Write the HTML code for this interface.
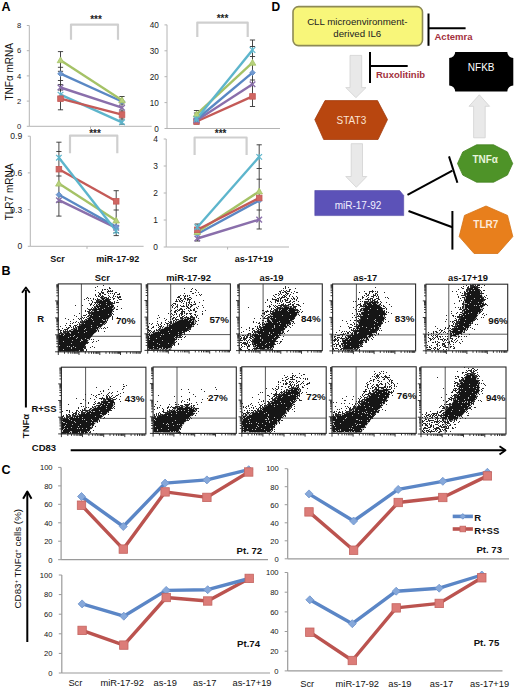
<!DOCTYPE html>
<html><head><meta charset="utf-8"><style>
html,body{margin:0;padding:0;background:#fff;}
svg{display:block;font-family:"Liberation Sans", sans-serif;}
</style></head><body>
<svg width="520" height="691" viewBox="0 0 520 691">
<text x="1.5" y="11.2" font-size="12.5" font-weight="bold" fill="#000" text-anchor="start" >A</text>
<line x1="29.3" y1="25.5" x2="29.3" y2="126.3" stroke="#b4b4b4" stroke-width="1" />
<line x1="29.3" y1="126.3" x2="151.7" y2="126.3" stroke="#b4b4b4" stroke-width="1" />
<line x1="26.8" y1="126.3" x2="29.3" y2="126.3" stroke="#b4b4b4" stroke-width="1" />
<text x="21.2" y="129.0" font-size="7.6" font-weight="normal" fill="#1a1a1a" text-anchor="end" >0</text>
<line x1="26.8" y1="101.1" x2="29.3" y2="101.1" stroke="#b4b4b4" stroke-width="1" />
<text x="21.2" y="103.8" font-size="7.6" font-weight="normal" fill="#1a1a1a" text-anchor="end" >2</text>
<line x1="26.8" y1="75.9" x2="29.3" y2="75.9" stroke="#b4b4b4" stroke-width="1" />
<text x="21.2" y="78.6" font-size="7.6" font-weight="normal" fill="#1a1a1a" text-anchor="end" >4</text>
<line x1="26.8" y1="50.7" x2="29.3" y2="50.7" stroke="#b4b4b4" stroke-width="1" />
<text x="21.2" y="53.4" font-size="7.6" font-weight="normal" fill="#1a1a1a" text-anchor="end" >6</text>
<line x1="26.8" y1="25.5" x2="29.3" y2="25.5" stroke="#b4b4b4" stroke-width="1" />
<text x="21.2" y="28.2" font-size="7.6" font-weight="normal" fill="#1a1a1a" text-anchor="end" >8</text>
<line x1="90.5" y1="126.3" x2="90.5" y2="128.8" stroke="#b4b4b4" stroke-width="1" />
<polyline points="71.0,39.7 71.0,24.6 118.0,24.6 118.0,39.7" fill="none" stroke="#cfcfcf" stroke-width="2.2" stroke-linejoin="round" stroke-linejoin="miter"/>
<text x="96.0" y="23.1" font-size="10" font-weight="bold" fill="#222" text-anchor="middle" >***</text>
<line x1="60.5" y1="51.6" x2="60.5" y2="109.8" stroke="#333" stroke-width="0.9" />
<line x1="57.9" y1="51.6" x2="63.1" y2="51.6" stroke="#333" stroke-width="0.9" />
<line x1="57.9" y1="109.8" x2="63.1" y2="109.8" stroke="#333" stroke-width="0.9" />
<line x1="122.0" y1="96.5" x2="122.0" y2="124.2" stroke="#333" stroke-width="0.9" />
<line x1="119.4" y1="96.5" x2="124.6" y2="96.5" stroke="#333" stroke-width="0.9" />
<line x1="119.4" y1="124.2" x2="124.6" y2="124.2" stroke="#333" stroke-width="0.9" />
<line x1="57.9" y1="67.3" x2="63.1" y2="67.3" stroke="#333" stroke-width="0.9" />
<line x1="57.9" y1="71.3" x2="63.1" y2="71.3" stroke="#333" stroke-width="0.9" />
<line x1="57.9" y1="80.5" x2="63.1" y2="80.5" stroke="#333" stroke-width="0.9" />
<line x1="57.9" y1="84.6" x2="63.1" y2="84.6" stroke="#333" stroke-width="0.9" />
<line x1="57.9" y1="90.0" x2="63.1" y2="90.0" stroke="#333" stroke-width="0.9" />
<line x1="119.4" y1="104.0" x2="124.6" y2="104.0" stroke="#333" stroke-width="0.9" />
<line x1="119.4" y1="111.0" x2="124.6" y2="111.0" stroke="#333" stroke-width="0.9" />
<line x1="119.4" y1="119.0" x2="124.6" y2="119.0" stroke="#333" stroke-width="0.9" />
<polyline points="60.5,87.5 122.0,107.7" fill="none" stroke="#8a6fab" stroke-width="2.4" stroke-linejoin="round" />
<polyline points="60.5,94.6 122.0,122.3" fill="none" stroke="#5db5cc" stroke-width="2.4" stroke-linejoin="round" />
<polyline points="60.5,98.7 122.0,114.6" fill="none" stroke="#c45a57" stroke-width="2.4" stroke-linejoin="round" />
<polyline points="60.5,73.7 122.0,101.5" fill="none" stroke="#5a88c4" stroke-width="2.4" stroke-linejoin="round" />
<polyline points="60.5,60.2 122.0,100.2" fill="none" stroke="#a5c266" stroke-width="2.4" stroke-linejoin="round" />
<line x1="57.7" y1="84.7" x2="63.3" y2="90.3" stroke="#8a6fab" stroke-width="1.4" />
<line x1="57.7" y1="90.3" x2="63.3" y2="84.7" stroke="#8a6fab" stroke-width="1.4" />
<line x1="119.2" y1="104.9" x2="124.8" y2="110.5" stroke="#8a6fab" stroke-width="1.4" />
<line x1="119.2" y1="110.5" x2="124.8" y2="104.9" stroke="#8a6fab" stroke-width="1.4" />
<line x1="57.7" y1="91.8" x2="63.3" y2="97.4" stroke="#5db5cc" stroke-width="1.2" />
<line x1="57.7" y1="97.4" x2="63.3" y2="91.8" stroke="#5db5cc" stroke-width="1.2" />
<line x1="60.5" y1="91.8" x2="60.5" y2="97.4" stroke="#5db5cc" stroke-width="1.2" />
<line x1="119.2" y1="119.5" x2="124.8" y2="125.1" stroke="#5db5cc" stroke-width="1.2" />
<line x1="119.2" y1="125.1" x2="124.8" y2="119.5" stroke="#5db5cc" stroke-width="1.2" />
<line x1="122.0" y1="119.5" x2="122.0" y2="125.1" stroke="#5db5cc" stroke-width="1.2" />
<rect x="57.7" y="95.9" width="5.6" height="5.6" fill="#d06662" stroke="#c45a57" stroke-width="0.8"/>
<rect x="119.2" y="111.8" width="5.6" height="5.6" fill="#d06662" stroke="#c45a57" stroke-width="0.8"/>
<polygon points="60.5,70.9 63.3,73.7 60.5,76.5 57.7,73.7" fill="#7099d0" stroke="#5a88c4" stroke-width="0.8" />
<polygon points="122.0,98.7 124.8,101.5 122.0,104.3 119.2,101.5" fill="#7099d0" stroke="#5a88c4" stroke-width="0.8" />
<polygon points="60.5,56.9 63.8,62.7 57.2,62.7" fill="#b8d27c" stroke="#a5c266" stroke-width="0.8" />
<polygon points="122.0,96.9 125.3,102.7 118.7,102.7" fill="#b8d27c" stroke="#a5c266" stroke-width="0.8" />
<line x1="167.0" y1="24.8" x2="167.0" y2="128.5" stroke="#b4b4b4" stroke-width="1" />
<line x1="167.0" y1="128.5" x2="280.0" y2="128.5" stroke="#b4b4b4" stroke-width="1" />
<line x1="164.5" y1="128.5" x2="167.0" y2="128.5" stroke="#b4b4b4" stroke-width="1" />
<text x="158.8" y="131.5" font-size="8.2" font-weight="normal" fill="#1a1a1a" text-anchor="end" >0</text>
<line x1="164.5" y1="102.6" x2="167.0" y2="102.6" stroke="#b4b4b4" stroke-width="1" />
<text x="158.8" y="105.6" font-size="8.2" font-weight="normal" fill="#1a1a1a" text-anchor="end" >10</text>
<line x1="164.5" y1="76.7" x2="167.0" y2="76.7" stroke="#b4b4b4" stroke-width="1" />
<text x="158.8" y="79.7" font-size="8.2" font-weight="normal" fill="#1a1a1a" text-anchor="end" >20</text>
<line x1="164.5" y1="50.8" x2="167.0" y2="50.8" stroke="#b4b4b4" stroke-width="1" />
<text x="158.8" y="53.8" font-size="8.2" font-weight="normal" fill="#1a1a1a" text-anchor="end" >30</text>
<line x1="164.5" y1="24.9" x2="167.0" y2="24.9" stroke="#b4b4b4" stroke-width="1" />
<text x="158.8" y="27.9" font-size="8.2" font-weight="normal" fill="#1a1a1a" text-anchor="end" >40</text>
<line x1="223.5" y1="128.5" x2="223.5" y2="131.0" stroke="#b4b4b4" stroke-width="1" />
<polyline points="197.3,36.9 197.3,22.6 247.7,22.6 247.7,36.9" fill="none" stroke="#cfcfcf" stroke-width="2.2" stroke-linejoin="round" stroke-linejoin="miter"/>
<text x="222.5" y="22.1" font-size="10" font-weight="bold" fill="#222" text-anchor="middle" >***</text>
<line x1="196.5" y1="110.5" x2="196.5" y2="124.0" stroke="#333" stroke-width="0.9" />
<line x1="193.9" y1="110.5" x2="199.1" y2="110.5" stroke="#333" stroke-width="0.9" />
<line x1="193.9" y1="124.0" x2="199.1" y2="124.0" stroke="#333" stroke-width="0.9" />
<line x1="252.5" y1="40.0" x2="252.5" y2="106.5" stroke="#333" stroke-width="0.9" />
<line x1="249.9" y1="40.0" x2="255.1" y2="40.0" stroke="#333" stroke-width="0.9" />
<line x1="249.9" y1="106.5" x2="255.1" y2="106.5" stroke="#333" stroke-width="0.9" />
<line x1="193.9" y1="113.0" x2="199.1" y2="113.0" stroke="#333" stroke-width="0.9" />
<line x1="249.9" y1="46.5" x2="255.1" y2="46.5" stroke="#333" stroke-width="0.9" />
<line x1="249.9" y1="56.5" x2="255.1" y2="56.5" stroke="#333" stroke-width="0.9" />
<line x1="249.9" y1="80.0" x2="255.1" y2="80.0" stroke="#333" stroke-width="0.9" />
<polyline points="196.5,121.5 252.5,96.4" fill="none" stroke="#c45a57" stroke-width="2.4" stroke-linejoin="round" />
<polyline points="196.5,120.5 252.5,84.3" fill="none" stroke="#8a6fab" stroke-width="2.4" stroke-linejoin="round" />
<polyline points="196.5,119.5 252.5,72.7" fill="none" stroke="#5a88c4" stroke-width="2.4" stroke-linejoin="round" />
<polyline points="196.5,114.4 252.5,62.7" fill="none" stroke="#a5c266" stroke-width="2.4" stroke-linejoin="round" />
<polyline points="196.5,119.0 252.5,50.0" fill="none" stroke="#5db5cc" stroke-width="2.4" stroke-linejoin="round" />
<rect x="193.7" y="118.7" width="5.6" height="5.6" fill="#d06662" stroke="#c45a57" stroke-width="0.8"/>
<rect x="249.7" y="93.6" width="5.6" height="5.6" fill="#d06662" stroke="#c45a57" stroke-width="0.8"/>
<line x1="193.7" y1="117.7" x2="199.3" y2="123.3" stroke="#8a6fab" stroke-width="1.4" />
<line x1="193.7" y1="123.3" x2="199.3" y2="117.7" stroke="#8a6fab" stroke-width="1.4" />
<line x1="249.7" y1="81.5" x2="255.3" y2="87.1" stroke="#8a6fab" stroke-width="1.4" />
<line x1="249.7" y1="87.1" x2="255.3" y2="81.5" stroke="#8a6fab" stroke-width="1.4" />
<polygon points="196.5,116.7 199.3,119.5 196.5,122.3 193.7,119.5" fill="#7099d0" stroke="#5a88c4" stroke-width="0.8" />
<polygon points="252.5,69.9 255.3,72.7 252.5,75.5 249.7,72.7" fill="#7099d0" stroke="#5a88c4" stroke-width="0.8" />
<polygon points="196.5,111.1 199.8,116.9 193.2,116.9" fill="#b8d27c" stroke="#a5c266" stroke-width="0.8" />
<polygon points="252.5,59.4 255.8,65.2 249.2,65.2" fill="#b8d27c" stroke="#a5c266" stroke-width="0.8" />
<line x1="193.7" y1="116.2" x2="199.3" y2="121.8" stroke="#5db5cc" stroke-width="1.2" />
<line x1="193.7" y1="121.8" x2="199.3" y2="116.2" stroke="#5db5cc" stroke-width="1.2" />
<line x1="196.5" y1="116.2" x2="196.5" y2="121.8" stroke="#5db5cc" stroke-width="1.2" />
<line x1="249.7" y1="47.2" x2="255.3" y2="52.8" stroke="#5db5cc" stroke-width="1.2" />
<line x1="249.7" y1="52.8" x2="255.3" y2="47.2" stroke="#5db5cc" stroke-width="1.2" />
<line x1="252.5" y1="47.2" x2="252.5" y2="52.8" stroke="#5db5cc" stroke-width="1.2" />
<line x1="30.3" y1="136.2" x2="30.3" y2="246.3" stroke="#b4b4b4" stroke-width="1" />
<line x1="30.3" y1="246.3" x2="143.6" y2="246.3" stroke="#b4b4b4" stroke-width="1" />
<line x1="27.8" y1="246.3" x2="30.3" y2="246.3" stroke="#b4b4b4" stroke-width="1" />
<text x="22.3" y="249.4" font-size="8.6" font-weight="normal" fill="#1a1a1a" text-anchor="end" >0</text>
<line x1="27.8" y1="209.6" x2="30.3" y2="209.6" stroke="#b4b4b4" stroke-width="1" />
<text x="22.3" y="212.7" font-size="8.6" font-weight="normal" fill="#1a1a1a" text-anchor="end" >0.3</text>
<line x1="27.8" y1="172.9" x2="30.3" y2="172.9" stroke="#b4b4b4" stroke-width="1" />
<text x="22.3" y="176.0" font-size="8.6" font-weight="normal" fill="#1a1a1a" text-anchor="end" >0.6</text>
<line x1="27.8" y1="136.2" x2="30.3" y2="136.2" stroke="#b4b4b4" stroke-width="1" />
<text x="22.3" y="139.3" font-size="8.6" font-weight="normal" fill="#1a1a1a" text-anchor="end" >0.9</text>
<line x1="87.0" y1="246.3" x2="87.0" y2="248.8" stroke="#b4b4b4" stroke-width="1" />
<polyline points="70.0,153.3 70.0,135.6 117.3,135.6 117.3,153.3" fill="none" stroke="#cfcfcf" stroke-width="2.2" stroke-linejoin="round" stroke-linejoin="miter"/>
<text x="95.0" y="137.3" font-size="10" font-weight="bold" fill="#222" text-anchor="middle" >***</text>
<line x1="58.9" y1="142.2" x2="58.9" y2="216.1" stroke="#333" stroke-width="0.9" />
<line x1="56.3" y1="142.2" x2="61.5" y2="142.2" stroke="#333" stroke-width="0.9" />
<line x1="56.3" y1="216.1" x2="61.5" y2="216.1" stroke="#333" stroke-width="0.9" />
<line x1="116.2" y1="190.7" x2="116.2" y2="235.6" stroke="#333" stroke-width="0.9" />
<line x1="113.6" y1="190.7" x2="118.8" y2="190.7" stroke="#333" stroke-width="0.9" />
<line x1="113.6" y1="235.6" x2="118.8" y2="235.6" stroke="#333" stroke-width="0.9" />
<line x1="56.3" y1="151.5" x2="61.5" y2="151.5" stroke="#333" stroke-width="0.9" />
<line x1="56.3" y1="202.0" x2="61.5" y2="202.0" stroke="#333" stroke-width="0.9" />
<line x1="56.3" y1="176.0" x2="61.5" y2="176.0" stroke="#333" stroke-width="0.9" />
<line x1="113.6" y1="210.0" x2="118.8" y2="210.0" stroke="#333" stroke-width="0.9" />
<line x1="113.6" y1="232.5" x2="118.8" y2="232.5" stroke="#333" stroke-width="0.9" />
<polyline points="58.9,200.2 116.2,227.8" fill="none" stroke="#8a6fab" stroke-width="2.4" stroke-linejoin="round" />
<polyline points="58.9,194.7 116.2,226.7" fill="none" stroke="#5a88c4" stroke-width="2.4" stroke-linejoin="round" />
<polyline points="58.9,183.6 116.2,220.5" fill="none" stroke="#a5c266" stroke-width="2.4" stroke-linejoin="round" />
<polyline points="58.9,169.2 116.2,201.3" fill="none" stroke="#c45a57" stroke-width="2.4" stroke-linejoin="round" />
<polyline points="58.9,157.7 116.2,231.0" fill="none" stroke="#5db5cc" stroke-width="2.4" stroke-linejoin="round" />
<line x1="56.1" y1="197.4" x2="61.7" y2="203.0" stroke="#8a6fab" stroke-width="1.4" />
<line x1="56.1" y1="203.0" x2="61.7" y2="197.4" stroke="#8a6fab" stroke-width="1.4" />
<line x1="113.4" y1="225.0" x2="119.0" y2="230.6" stroke="#8a6fab" stroke-width="1.4" />
<line x1="113.4" y1="230.6" x2="119.0" y2="225.0" stroke="#8a6fab" stroke-width="1.4" />
<polygon points="58.9,191.9 61.7,194.7 58.9,197.5 56.1,194.7" fill="#7099d0" stroke="#5a88c4" stroke-width="0.8" />
<polygon points="116.2,223.9 119.0,226.7 116.2,229.5 113.4,226.7" fill="#7099d0" stroke="#5a88c4" stroke-width="0.8" />
<polygon points="58.9,180.3 62.2,186.1 55.6,186.1" fill="#b8d27c" stroke="#a5c266" stroke-width="0.8" />
<polygon points="116.2,217.2 119.5,223.0 112.9,223.0" fill="#b8d27c" stroke="#a5c266" stroke-width="0.8" />
<rect x="56.1" y="166.4" width="5.6" height="5.6" fill="#d06662" stroke="#c45a57" stroke-width="0.8"/>
<rect x="113.4" y="198.5" width="5.6" height="5.6" fill="#d06662" stroke="#c45a57" stroke-width="0.8"/>
<line x1="56.1" y1="154.9" x2="61.7" y2="160.5" stroke="#5db5cc" stroke-width="1.2" />
<line x1="56.1" y1="160.5" x2="61.7" y2="154.9" stroke="#5db5cc" stroke-width="1.2" />
<line x1="58.9" y1="154.9" x2="58.9" y2="160.5" stroke="#5db5cc" stroke-width="1.2" />
<line x1="113.4" y1="228.2" x2="119.0" y2="233.8" stroke="#5db5cc" stroke-width="1.2" />
<line x1="113.4" y1="233.8" x2="119.0" y2="228.2" stroke="#5db5cc" stroke-width="1.2" />
<line x1="116.2" y1="228.2" x2="116.2" y2="233.8" stroke="#5db5cc" stroke-width="1.2" />
<line x1="166.2" y1="139.0" x2="166.2" y2="247.0" stroke="#b4b4b4" stroke-width="1" />
<line x1="166.2" y1="247.0" x2="289.0" y2="247.0" stroke="#b4b4b4" stroke-width="1" />
<line x1="163.7" y1="247.0" x2="166.2" y2="247.0" stroke="#b4b4b4" stroke-width="1" />
<text x="158.0" y="250.0" font-size="8.4" font-weight="normal" fill="#1a1a1a" text-anchor="end" >0</text>
<line x1="163.7" y1="220.0" x2="166.2" y2="220.0" stroke="#b4b4b4" stroke-width="1" />
<text x="158.0" y="223.0" font-size="8.4" font-weight="normal" fill="#1a1a1a" text-anchor="end" >1</text>
<line x1="163.7" y1="193.0" x2="166.2" y2="193.0" stroke="#b4b4b4" stroke-width="1" />
<text x="158.0" y="196.0" font-size="8.4" font-weight="normal" fill="#1a1a1a" text-anchor="end" >2</text>
<line x1="163.7" y1="166.0" x2="166.2" y2="166.0" stroke="#b4b4b4" stroke-width="1" />
<text x="158.0" y="169.0" font-size="8.4" font-weight="normal" fill="#1a1a1a" text-anchor="end" >3</text>
<line x1="163.7" y1="139.0" x2="166.2" y2="139.0" stroke="#b4b4b4" stroke-width="1" />
<text x="158.0" y="142.0" font-size="8.4" font-weight="normal" fill="#1a1a1a" text-anchor="end" >4</text>
<line x1="227.6" y1="247.0" x2="227.6" y2="249.5" stroke="#b4b4b4" stroke-width="1" />
<polyline points="194.6,155.0 194.6,137.5 246.6,137.5 246.6,155.0" fill="none" stroke="#cfcfcf" stroke-width="2.2" stroke-linejoin="round" stroke-linejoin="miter"/>
<text x="220.6" y="136.7" font-size="10" font-weight="bold" fill="#222" text-anchor="middle" >***</text>
<line x1="197.3" y1="224.0" x2="197.3" y2="241.0" stroke="#333" stroke-width="0.9" />
<line x1="194.7" y1="224.0" x2="199.9" y2="224.0" stroke="#333" stroke-width="0.9" />
<line x1="194.7" y1="241.0" x2="199.9" y2="241.0" stroke="#333" stroke-width="0.9" />
<line x1="259.2" y1="144.8" x2="259.2" y2="229.0" stroke="#333" stroke-width="0.9" />
<line x1="256.6" y1="144.8" x2="261.8" y2="144.8" stroke="#333" stroke-width="0.9" />
<line x1="256.6" y1="229.0" x2="261.8" y2="229.0" stroke="#333" stroke-width="0.9" />
<line x1="256.6" y1="168.5" x2="261.8" y2="168.5" stroke="#333" stroke-width="0.9" />
<line x1="256.6" y1="179.2" x2="261.8" y2="179.2" stroke="#333" stroke-width="0.9" />
<line x1="256.6" y1="210.0" x2="261.8" y2="210.0" stroke="#333" stroke-width="0.9" />
<polyline points="197.3,238.5 259.2,219.6" fill="none" stroke="#8a6fab" stroke-width="2.4" stroke-linejoin="round" />
<polyline points="197.3,234.0 259.2,200.5" fill="none" stroke="#5a88c4" stroke-width="2.4" stroke-linejoin="round" />
<polyline points="197.3,232.0 259.2,191.4" fill="none" stroke="#a5c266" stroke-width="2.4" stroke-linejoin="round" />
<polyline points="197.3,229.8 259.2,198.0" fill="none" stroke="#c45a57" stroke-width="2.4" stroke-linejoin="round" />
<polyline points="197.3,227.2 259.2,156.9" fill="none" stroke="#5db5cc" stroke-width="2.4" stroke-linejoin="round" />
<line x1="194.5" y1="235.7" x2="200.1" y2="241.3" stroke="#8a6fab" stroke-width="1.4" />
<line x1="194.5" y1="241.3" x2="200.1" y2="235.7" stroke="#8a6fab" stroke-width="1.4" />
<line x1="256.4" y1="216.8" x2="262.0" y2="222.4" stroke="#8a6fab" stroke-width="1.4" />
<line x1="256.4" y1="222.4" x2="262.0" y2="216.8" stroke="#8a6fab" stroke-width="1.4" />
<polygon points="197.3,231.2 200.1,234.0 197.3,236.8 194.5,234.0" fill="#7099d0" stroke="#5a88c4" stroke-width="0.8" />
<polygon points="259.2,197.7 262.0,200.5 259.2,203.3 256.4,200.5" fill="#7099d0" stroke="#5a88c4" stroke-width="0.8" />
<polygon points="197.3,228.7 200.6,234.5 194.0,234.5" fill="#b8d27c" stroke="#a5c266" stroke-width="0.8" />
<polygon points="259.2,188.1 262.5,193.9 255.9,193.9" fill="#b8d27c" stroke="#a5c266" stroke-width="0.8" />
<rect x="194.5" y="227.0" width="5.6" height="5.6" fill="#d06662" stroke="#c45a57" stroke-width="0.8"/>
<rect x="256.4" y="195.2" width="5.6" height="5.6" fill="#d06662" stroke="#c45a57" stroke-width="0.8"/>
<line x1="194.5" y1="224.4" x2="200.1" y2="230.0" stroke="#5db5cc" stroke-width="1.2" />
<line x1="194.5" y1="230.0" x2="200.1" y2="224.4" stroke="#5db5cc" stroke-width="1.2" />
<line x1="197.3" y1="224.4" x2="197.3" y2="230.0" stroke="#5db5cc" stroke-width="1.2" />
<line x1="256.4" y1="154.1" x2="262.0" y2="159.7" stroke="#5db5cc" stroke-width="1.2" />
<line x1="256.4" y1="159.7" x2="262.0" y2="154.1" stroke="#5db5cc" stroke-width="1.2" />
<line x1="259.2" y1="154.1" x2="259.2" y2="159.7" stroke="#5db5cc" stroke-width="1.2" />
<text x="0.0" y="0.0" font-size="10" font-weight="normal" fill="#111" text-anchor="middle" transform="translate(12.6,71.8) rotate(-90)">TNFα mRNA</text>
<text x="0.0" y="0.0" font-size="10" font-weight="normal" fill="#111" text-anchor="middle" transform="translate(12.6,192) rotate(-90)">TLR7 mRNA</text>
<text x="57.6" y="262.0" font-size="9" font-weight="bold" fill="#111" text-anchor="middle" >Scr</text>
<text x="117.8" y="262.0" font-size="9" font-weight="bold" fill="#111" text-anchor="middle" >miR-17-92</text>
<text x="189.8" y="262.0" font-size="9" font-weight="bold" fill="#111" text-anchor="middle" >Scr</text>
<text x="254.0" y="262.0" font-size="9" font-weight="bold" fill="#111" text-anchor="middle" >as-17+19</text>
<text x="271.5" y="11.0" font-size="12" font-weight="bold" fill="#000" text-anchor="start" >D</text>
<rect x="293" y="6.6" width="129.5" height="39" rx="5.5" ry="5.5" fill="#f8f67a" stroke="#8d8a55" stroke-width="1.6"/>
<text x="357.3" y="24.5" font-size="9.7" font-weight="normal" fill="#222" text-anchor="middle" >CLL microenvironment-</text>
<text x="357.3" y="37.2" font-size="9.7" font-weight="normal" fill="#222" text-anchor="middle" >derived IL6</text>
<line x1="428.5" y1="13.5" x2="428.5" y2="45.8" stroke="#000" stroke-width="2" />
<line x1="428.5" y1="28.3" x2="465.6" y2="28.3" stroke="#000" stroke-width="2" />
<text x="434.5" y="39.8" font-size="9.5" font-weight="bold" fill="#a3303c" text-anchor="start" >Actemra</text>
<line x1="370.0" y1="52.1" x2="370.0" y2="83.1" stroke="#000" stroke-width="2" />
<line x1="370.0" y1="66.1" x2="407.7" y2="66.1" stroke="#000" stroke-width="2" />
<text x="376.0" y="78.0" font-size="9.5" font-weight="bold" fill="#a3303c" text-anchor="start" >Ruxolitinib</text>
<polygon points="350.0,55.4 361.7,55.4 361.7,87.6 366.0,87.6 355.9,97.7 345.8,87.6 350.0,87.6" fill="#e9e9e9" stroke="#d2d2d2" stroke-width="0.8" />
<polygon points="351.2,143.7 362.5,143.7 362.5,176.5 366.8,176.5 356.3,187.3 345.8,176.5 351.2,176.5" fill="#e9e9e9" stroke="#d2d2d2" stroke-width="0.8" />
<polygon points="473.6,137.8 485.2,137.8 485.2,106.3 489.6,106.3 479.3,94.8 469.0,106.3 473.6,106.3" fill="#e9e9e9" stroke="#d2d2d2" stroke-width="0.8" />
<polygon points="325.0,100.6 377.5,100.6 387.5,119.6 378.0,139.5 323.7,139.5 314.8,119.6" fill="#b8460f" stroke="#a23d10" stroke-width="0.8" />
<text x="351.4" y="123.8" font-size="10" font-weight="normal" fill="#fbe3d3" text-anchor="middle" >STAT3</text>
<polygon points="314.8,190.5 399.6,190.5 403.7,195.4 403.7,215.6 314.8,215.6" fill="#5c52b8" stroke="#5048a6" stroke-width="0.6" />
<text x="358.0" y="209.2" font-size="10" font-weight="normal" fill="#f2efff" text-anchor="middle" >miR-17-92</text>
<path d="M455.2,51.9 H507.29999999999995 A6,6 0 0 0 513.3,57.9 V85.5 A6,6 0 0 0 507.29999999999995,91.5 H455.2 A6,6 0 0 0 449.2,85.5 V57.9 A6,6 0 0 0 455.2,51.9 Z" fill="#000"/>
<text x="481.2" y="70.5" font-size="10" font-weight="normal" fill="#fff" text-anchor="middle" >NFKB</text>
<polygon points="512.7,163.5 507.4,175.1 493.6,182.2 476.6,182.2 462.8,175.1 457.5,163.5 462.8,151.9 476.6,144.8 493.6,144.8 507.4,151.9" fill="#4e9328" stroke="#44821f" stroke-width="0.8" />
<text x="485.2" y="162.5" font-size="10" font-weight="bold" fill="#e8f5dc" text-anchor="middle" >TNFα</text>
<polygon points="486.0,206.0 507.5,215.4 512.8,236.6 497.9,253.5 474.1,253.5 459.2,236.6 464.5,215.4" fill="#e87f1c" stroke="#d47215" stroke-width="0.8" />
<text x="485.8" y="228.0" font-size="10" font-weight="bold" fill="#fdeadb" text-anchor="middle" >TLR7</text>
<line x1="407.5" y1="194.8" x2="452.4" y2="170.6" stroke="#000" stroke-width="2" />
<line x1="449.0" y1="156.4" x2="457.4" y2="182.8" stroke="#000" stroke-width="2" />
<line x1="408.5" y1="211.0" x2="452.4" y2="227.3" stroke="#000" stroke-width="2" />
<line x1="452.4" y1="211.0" x2="452.4" y2="249.6" stroke="#000" stroke-width="2" />
<text x="1.5" y="274.5" font-size="12.5" font-weight="bold" fill="#000" text-anchor="start" >B</text>
<clipPath id="cp0"><rect x="58.3" y="283.9" width="82.89999999999999" height="67.90000000000003"/></clipPath>
<line x1="81.4" y1="283.9" x2="81.4" y2="351.8" stroke="#444" stroke-width="0.9" />
<line x1="58.3" y1="336.3" x2="141.2" y2="336.3" stroke="#444" stroke-width="0.9" />
<g clip-path="url(#cp0)">
<polygon points="58.1,351.9 58.1,334.6 64.3,333.2 71.2,330.5 75.8,328.2 81.5,324.6 87.3,318.8 93.0,310.8 97.5,302.8 102.2,297.0 108.1,299.3 112.6,303.9 113.7,308.4 110.4,316.6 104.6,323.5 97.7,330.5 93.0,335.0 88.5,340.2 85.1,345.7 83.0,351.9" fill="#161616" stroke="none" stroke-width="1" />
<path d="M103 285.5h1M97 286.5h1M95 287.5h1M109 287.5h1M109 288.5h1M110 288.5h1M102 289.5h1M104 289.5h1M105 289.5h1M107 289.5h1M95 290.5h1M102 290.5h1M108 290.5h1M110 290.5h1M112 290.5h1M101 291.5h1M107 291.5h1M108 291.5h1M109 291.5h1M110 291.5h1M111 291.5h1M112 291.5h1M98 292.5h1M101 292.5h1M102 292.5h1M103 292.5h1M107 292.5h1M115 292.5h1M116 292.5h1M99 293.5h1M100 293.5h1M102 293.5h1M103 293.5h1M108 293.5h1M110 293.5h1M112 293.5h1M114 293.5h1M119 293.5h1M95 294.5h1M99 294.5h1M100 294.5h1M104 294.5h1M105 294.5h1M114 294.5h1M117 294.5h1M118 294.5h1M119 294.5h1M95 295.5h1M98 295.5h1M100 295.5h1M102 295.5h1M108 295.5h1M113 295.5h1M96 296.5h1M98 296.5h1M99 296.5h1M101 296.5h1M102 296.5h1M103 296.5h1M109 296.5h1M113 296.5h1M115 296.5h1M117 296.5h1M119 296.5h1M120 296.5h1M87 297.5h1M100 297.5h1M101 297.5h1M104 297.5h1M105 297.5h1M106 297.5h1M108 297.5h1M110 297.5h1M112 297.5h1M117 297.5h1M118 297.5h1M119 297.5h1M120 297.5h1M86 298.5h1M88 298.5h1M90 298.5h1M93 298.5h1M97 298.5h1M106 298.5h1M107 298.5h1M108 298.5h1M113 298.5h1M114 298.5h1M118 298.5h1M84 299.5h1M93 299.5h1M95 299.5h1M97 299.5h1M98 299.5h1M99 299.5h1M108 299.5h1M109 299.5h1M110 299.5h1M113 299.5h1M119 299.5h1M120 299.5h1M121 299.5h1M88 300.5h1M91 300.5h1M96 300.5h1M97 300.5h1M98 300.5h1M109 300.5h1M117 300.5h1M92 301.5h1M96 301.5h1M97 301.5h1M98 301.5h1M110 301.5h1M114 301.5h1M92 302.5h1M94 302.5h1M95 302.5h1M96 302.5h1M97 302.5h1M111 302.5h1M112 302.5h1M114 302.5h1M116 302.5h1M117 302.5h1M118 302.5h1M89 303.5h1M91 303.5h1M95 303.5h1M112 303.5h1M113 303.5h1M114 303.5h1M90 304.5h1M91 304.5h1M94 304.5h1M96 304.5h1M75 305.5h1M82 305.5h1M90 305.5h1M93 305.5h1M113 305.5h1M94 306.5h1M113 306.5h1M117 306.5h1M92 307.5h1M94 307.5h1M114 307.5h1M87 308.5h1M91 308.5h1M93 308.5h1M114 308.5h1M121 308.5h1M88 309.5h1M89 309.5h1M90 309.5h1M91 309.5h1M92 309.5h1M93 309.5h1M113 309.5h1M116 309.5h1M117 309.5h1M85 310.5h1M89 310.5h1M90 310.5h1M92 310.5h1M85 311.5h1M87 311.5h1M88 311.5h1M89 311.5h1M91 311.5h1M113 311.5h1M88 312.5h1M89 312.5h1M90 312.5h1M91 312.5h1M79 313.5h1M88 313.5h1M89 313.5h1M90 313.5h1M112 313.5h1M86 314.5h1M89 314.5h1M111 314.5h1M113 314.5h1M74 315.5h1M83 315.5h1M84 315.5h1M85 315.5h1M88 315.5h1M89 315.5h1M111 315.5h1M76 316.5h1M81 316.5h1M87 316.5h1M88 316.5h1M110 316.5h1M112 316.5h1M82 317.5h1M84 317.5h1M86 317.5h1M112 317.5h1M117 317.5h1M65 318.5h1M78 318.5h1M80 318.5h1M81 318.5h1M83 318.5h1M87 318.5h1M112 318.5h1M68 319.5h1M73 319.5h1M79 319.5h1M81 319.5h1M85 319.5h1M86 319.5h1M112 319.5h1M58 320.5h1M82 320.5h1M84 320.5h1M107 320.5h1M70 321.5h1M76 321.5h1M80 321.5h1M82 321.5h1M83 321.5h1M84 321.5h1M106 321.5h1M73 322.5h1M75 322.5h1M78 322.5h1M80 322.5h1M81 322.5h1M82 322.5h1M83 322.5h1M106 322.5h1M66 323.5h1M70 323.5h1M72 323.5h1M79 323.5h1M82 323.5h1M105 323.5h1M77 324.5h1M79 324.5h1M80 324.5h1M81 324.5h1M104 324.5h1M65 325.5h1M69 325.5h1M70 325.5h1M74 325.5h1M75 325.5h1M76 325.5h1M79 325.5h1M60 326.5h1M70 326.5h1M73 326.5h1M75 326.5h1M77 326.5h1M78 326.5h1M66 327.5h1M68 327.5h1M69 327.5h1M71 327.5h1M73 327.5h1M75 327.5h1M76 327.5h1M104 327.5h1M107 327.5h1M62 328.5h1M67 328.5h1M68 328.5h1M73 328.5h1M74 328.5h1M101 328.5h1M103 328.5h1M105 328.5h1M58 329.5h1M59 329.5h1M64 329.5h1M65 329.5h1M66 329.5h1M67 329.5h1M71 329.5h1M72 329.5h1M58 330.5h1M60 330.5h1M61 330.5h1M63 330.5h1M65 330.5h1M67 330.5h1M69 330.5h1M70 330.5h1M98 330.5h1M60 331.5h1M63 331.5h1M64 331.5h1M65 331.5h1M66 331.5h1M67 331.5h1M68 331.5h1M98 331.5h1M104 331.5h1M58 332.5h1M60 332.5h1M61 332.5h1M63 332.5h1M64 332.5h1M65 332.5h1M59 333.5h1M60 333.5h1M61 333.5h1M62 333.5h1M58 334.5h1M89 339.5h1M91 339.5h1M93 339.5h1M98 340.5h1M93 341.5h1M96 341.5h1M87 342.5h1M88 342.5h1M92 342.5h1M86 343.5h1M87 343.5h1M85 346.5h1M92 346.5h1M84 347.5h1M85 347.5h1M90 347.5h1M94 347.5h1M84 348.5h1M85 348.5h1M86 349.5h1M83 350.5h1M86 350.5h1M83 351.5h1M85 351.5h1" stroke="#2a2a2a" stroke-width="1" fill="none"/>
<path d="M105 298.5h1M100 299.5h1M101 299.5h1M104 299.5h1M102 300.5h1M106 302.5h1M98 303.5h1M97 304.5h1M100 304.5h1M106 304.5h1M98 305.5h1M110 305.5h1M108 306.5h1M96 307.5h1M99 307.5h1M113 307.5h1M97 308.5h1M104 308.5h1M112 308.5h1M102 309.5h1M97 310.5h1M98 310.5h1M93 311.5h1M90 314.5h1M108 314.5h1M92 315.5h1M89 316.5h1M99 316.5h1M88 317.5h1M91 318.5h1M87 319.5h1M92 319.5h1M102 319.5h1M106 319.5h1M103 320.5h1M104 320.5h1M106 320.5h1M93 321.5h1M84 323.5h1M100 323.5h1M101 323.5h1M91 325.5h1M97 326.5h1M77 327.5h1M91 327.5h1M99 327.5h1M77 328.5h1M85 328.5h1M98 328.5h1M77 329.5h1M84 329.5h1M96 329.5h1M98 329.5h1M71 330.5h1M72 330.5h1M97 330.5h1M86 331.5h1M69 332.5h1M70 332.5h1M78 332.5h1M84 332.5h1M70 333.5h1M94 333.5h1M60 334.5h1M64 334.5h1M93 334.5h1M63 335.5h1M74 335.5h1M70 336.5h1M73 336.5h1M68 337.5h1M77 337.5h1M76 338.5h1M85 338.5h1M81 339.5h1M87 339.5h1M88 339.5h1M58 340.5h1M72 340.5h1M81 340.5h1M82 340.5h1M58 341.5h1M63 341.5h1M80 341.5h1M58 342.5h1M71 343.5h1M59 345.5h1M67 346.5h1M69 346.5h1M73 346.5h1M71 347.5h1M75 347.5h1M58 348.5h1M71 348.5h1M83 348.5h1M63 349.5h1M79 350.5h1M59 351.5h1M61 351.5h1M62 351.5h1M63 351.5h1M65 351.5h1M71 351.5h1M75 351.5h1M76 351.5h1M78 351.5h1M79 351.5h1M82 351.5h1" stroke="#bdbdbd" stroke-width="1" fill="none"/>
</g>
<rect x="58.3" y="283.9" width="82.89999999999999" height="67.90000000000003" fill="none" stroke="#2a2a2a" stroke-width="1.1"/>
<path d="M55.1 351.8h3.2M58.3 351.8v3.2M56.3 346.7h2.0M64.5 351.8v2.0M56.3 343.7h2.0M68.2 351.8v2.0M56.3 341.6h2.0M70.8 351.8v2.0M56.3 339.9h2.0M72.8 351.8v2.0M56.3 338.6h2.0M74.4 351.8v2.0M56.3 337.5h2.0M75.8 351.8v2.0M56.3 336.5h2.0M77.0 351.8v2.0M56.3 335.6h2.0M78.1 351.8v2.0M55.1 334.8h3.2M79.0 351.8v3.2M56.3 329.7h2.0M85.3 351.8v2.0M56.3 326.7h2.0M88.9 351.8v2.0M56.3 324.6h2.0M91.5 351.8v2.0M56.3 323.0h2.0M93.5 351.8v2.0M56.3 321.6h2.0M95.2 351.8v2.0M56.3 320.5h2.0M96.5 351.8v2.0M56.3 319.5h2.0M97.7 351.8v2.0M56.3 318.6h2.0M98.8 351.8v2.0M55.1 317.9h3.2M99.8 351.8v3.2M56.3 312.7h2.0M106.0 351.8v2.0M56.3 309.8h2.0M109.6 351.8v2.0M56.3 307.6h2.0M112.2 351.8v2.0M56.3 306.0h2.0M114.2 351.8v2.0M56.3 304.6h2.0M115.9 351.8v2.0M56.3 303.5h2.0M117.3 351.8v2.0M56.3 302.5h2.0M118.5 351.8v2.0M56.3 301.7h2.0M119.5 351.8v2.0M55.1 300.9h3.2M120.5 351.8v3.2M56.3 295.8h2.0M126.7 351.8v2.0M56.3 292.8h2.0M130.4 351.8v2.0M56.3 290.7h2.0M133.0 351.8v2.0M56.3 289.0h2.0M135.0 351.8v2.0M56.3 287.7h2.0M136.6 351.8v2.0M56.3 286.5h2.0M138.0 351.8v2.0M56.3 285.5h2.0M139.2 351.8v2.0M56.3 284.7h2.0M140.3 351.8v2.0" stroke="#222" stroke-width="0.9" fill="none"/>
<clipPath id="cp1"><rect x="147.7" y="283.9" width="82.70000000000002" height="66.5"/></clipPath>
<line x1="170.7" y1="283.9" x2="170.7" y2="350.4" stroke="#444" stroke-width="0.9" />
<line x1="147.7" y1="334.6" x2="230.4" y2="334.6" stroke="#444" stroke-width="0.9" />
<g clip-path="url(#cp1)">
<polygon points="147.7,349.8 147.7,334.6 152.9,333.2 158.5,330.5 164.0,327.7 169.5,324.9 175.1,322.2 180.6,319.4 186.2,318.0 191.7,318.0 195.2,319.4 195.8,322.2 193.1,326.3 187.5,330.5 182.0,333.9 177.8,337.4 173.7,342.9 170.9,347.1 168.2,349.8" fill="#161616" stroke="none" stroke-width="1" />
<path d="M184 288.5h1M192 288.5h1M191 289.5h1M195 289.5h1M196 290.5h1M190 291.5h1M191 291.5h1M195 292.5h1M198 292.5h1M184 293.5h1M192 293.5h1M193 293.5h1M199 294.5h1M201 294.5h1M180 295.5h1M183 295.5h1M185 295.5h1M187 295.5h1M189 295.5h1M196 295.5h1M200 295.5h1M178 296.5h1M179 296.5h1M184 296.5h1M185 296.5h1M187 296.5h1M177 297.5h1M178 297.5h1M179 297.5h1M184 297.5h1M189 297.5h1M190 297.5h1M180 298.5h1M181 298.5h1M184 298.5h1M185 298.5h1M187 298.5h1M188 298.5h1M191 298.5h1M176 299.5h1M178 299.5h1M180 299.5h1M183 299.5h1M185 299.5h1M187 299.5h1M188 299.5h1M189 299.5h1M190 299.5h1M176 300.5h1M179 300.5h1M181 300.5h1M182 300.5h1M187 300.5h1M189 300.5h1M203 300.5h1M175 301.5h1M176 301.5h1M177 301.5h1M179 301.5h1M180 301.5h1M182 301.5h1M184 301.5h1M189 301.5h1M194 301.5h1M181 302.5h1M186 302.5h1M188 302.5h1M189 302.5h1M191 302.5h1M194 302.5h1M199 302.5h1M173 303.5h1M174 303.5h1M175 303.5h1M183 303.5h1M186 303.5h1M189 303.5h1M195 303.5h1M172 304.5h1M175 304.5h1M177 304.5h1M186 304.5h1M188 304.5h1M190 304.5h1M191 304.5h1M193 304.5h1M194 304.5h1M195 304.5h1M171 305.5h1M173 305.5h1M177 305.5h1M180 305.5h1M183 305.5h1M186 305.5h1M188 305.5h1M191 305.5h1M192 305.5h1M202 305.5h1M172 306.5h1M176 306.5h1M177 306.5h1M181 306.5h1M182 306.5h1M183 306.5h1M184 306.5h1M186 306.5h1M187 306.5h1M190 306.5h1M191 306.5h1M198 306.5h1M172 307.5h1M175 307.5h1M177 307.5h1M187 307.5h1M188 307.5h1M190 307.5h1M196 307.5h1M203 307.5h1M174 308.5h1M180 308.5h1M181 308.5h1M186 308.5h1M188 308.5h1M189 308.5h1M194 308.5h1M197 308.5h1M177 309.5h1M179 309.5h1M180 309.5h1M181 309.5h1M182 309.5h1M184 309.5h1M190 309.5h1M193 309.5h1M194 309.5h1M171 310.5h1M175 310.5h1M176 310.5h1M178 310.5h1M179 310.5h1M182 310.5h1M188 310.5h1M190 310.5h1M191 310.5h1M193 310.5h1M194 310.5h1M205 310.5h1M170 311.5h1M174 311.5h1M175 311.5h1M177 311.5h1M181 311.5h1M182 311.5h1M183 311.5h1M184 311.5h1M189 311.5h1M195 311.5h1M196 311.5h1M202 311.5h1M174 312.5h1M175 312.5h1M181 312.5h1M182 312.5h1M184 312.5h1M195 312.5h1M168 313.5h1M171 313.5h1M176 313.5h1M180 313.5h1M181 313.5h1M182 313.5h1M184 313.5h1M186 313.5h1M187 313.5h1M189 313.5h1M190 313.5h1M191 313.5h1M202 313.5h1M170 314.5h1M172 314.5h1M174 314.5h1M176 314.5h1M179 314.5h1M181 314.5h1M182 314.5h1M186 314.5h1M190 314.5h1M194 314.5h1M195 314.5h1M202 314.5h1M158 315.5h1M173 315.5h1M179 315.5h1M181 315.5h1M184 315.5h1M191 315.5h1M195 315.5h1M197 315.5h1M171 316.5h1M177 316.5h1M179 316.5h1M182 316.5h1M183 316.5h1M186 316.5h1M190 316.5h1M191 316.5h1M192 316.5h1M196 316.5h1M159 317.5h1M170 317.5h1M173 317.5h1M174 317.5h1M176 317.5h1M180 317.5h1M181 317.5h1M182 317.5h1M184 317.5h1M185 317.5h1M186 317.5h1M187 317.5h1M188 317.5h1M190 317.5h1M191 317.5h1M192 317.5h1M193 317.5h1M194 317.5h1M196 317.5h1M157 318.5h1M164 318.5h1M172 318.5h1M173 318.5h1M175 318.5h1M180 318.5h1M181 318.5h1M182 318.5h1M183 318.5h1M193 318.5h1M194 318.5h1M198 318.5h1M166 319.5h1M170 319.5h1M172 319.5h1M175 319.5h1M176 319.5h1M177 319.5h1M178 319.5h1M165 320.5h1M173 320.5h1M174 320.5h1M176 320.5h1M195 320.5h1M198 320.5h1M157 321.5h1M168 321.5h1M170 321.5h1M171 321.5h1M173 321.5h1M175 321.5h1M196 321.5h1M161 322.5h1M165 322.5h1M169 322.5h1M170 322.5h1M171 322.5h1M173 322.5h1M149 323.5h1M152 323.5h1M157 323.5h1M161 323.5h1M166 323.5h1M167 323.5h1M168 323.5h1M170 323.5h1M171 323.5h1M195 323.5h1M151 324.5h1M158 324.5h1M160 324.5h1M164 324.5h1M167 324.5h1M169 324.5h1M194 324.5h1M197 324.5h1M156 325.5h1M158 325.5h1M161 325.5h1M167 325.5h1M148 326.5h1M153 326.5h1M159 326.5h1M160 326.5h1M161 326.5h1M163 326.5h1M193 326.5h1M148 327.5h1M152 327.5h1M153 327.5h1M158 327.5h1M160 327.5h1M162 327.5h1M147 328.5h1M151 328.5h1M159 328.5h1M160 328.5h1M190 328.5h1M148 329.5h1M156 329.5h1M158 329.5h1M159 329.5h1M189 329.5h1M190 329.5h1M148 330.5h1M149 330.5h1M150 330.5h1M154 330.5h1M156 330.5h1M157 330.5h1M187 330.5h1M188 330.5h1M147 331.5h1M149 331.5h1M151 331.5h1M153 331.5h1M154 331.5h1M186 331.5h1M189 331.5h1M148 332.5h1M150 332.5h1M152 332.5h1M153 332.5h1M184 332.5h1M149 333.5h1M184 333.5h1M147 334.5h1M182 334.5h1M184 334.5h1M147 335.5h1M180 335.5h1M181 335.5h1M147 336.5h1M179 336.5h1M180 336.5h1M182 336.5h1M185 336.5h1M147 337.5h1M178 337.5h1M179 337.5h1M180 337.5h1M181 337.5h1M184 337.5h1M147 338.5h1M147 339.5h1M176 339.5h1M178 339.5h1M181 339.5h1M147 340.5h1M147 341.5h1M176 341.5h1M147 342.5h1M174 342.5h1M175 342.5h1M147 343.5h1M173 343.5h1M174 343.5h1M178 343.5h1M147 344.5h1M173 344.5h1M174 344.5h1M178 344.5h1M147 345.5h1M172 345.5h1M174 345.5h1M147 346.5h1M171 346.5h1M147 347.5h1M171 347.5h1M147 348.5h1M147 349.5h1M169 349.5h1M148 350.5h1M151 350.5h1M152 350.5h1M153 350.5h1M154 350.5h1M162 350.5h1M165 350.5h1M166 350.5h1M167 350.5h1M168 350.5h1" stroke="#2a2a2a" stroke-width="1" fill="none"/>
<path d="M184 318.5h1M186 318.5h1M191 318.5h1M183 319.5h1M189 319.5h1M188 320.5h1M192 320.5h1M194 320.5h1M191 321.5h1M194 321.5h1M174 322.5h1M194 322.5h1M190 323.5h1M194 323.5h1M171 324.5h1M192 325.5h1M166 326.5h1M168 326.5h1M164 327.5h1M186 327.5h1M163 328.5h1M171 329.5h1M156 331.5h1M157 331.5h1M159 331.5h1M168 331.5h1M182 331.5h1M178 332.5h1M152 333.5h1M169 333.5h1M182 333.5h1M150 334.5h1M161 334.5h1M163 334.5h1M178 334.5h1M148 335.5h1M149 336.5h1M160 336.5h1M175 336.5h1M178 336.5h1M149 337.5h1M174 337.5h1M156 338.5h1M175 338.5h1M149 339.5h1M162 340.5h1M175 340.5h1M153 341.5h1M157 343.5h1M168 343.5h1M159 344.5h1M153 346.5h1M157 347.5h1M162 347.5h1M148 348.5h1M153 348.5h1M159 348.5h1M160 348.5h1M162 348.5h1M165 348.5h1M168 348.5h1M150 349.5h1M159 349.5h1M161 349.5h1M164 349.5h1M167 349.5h1M168 349.5h1" stroke="#bdbdbd" stroke-width="1" fill="none"/>
</g>
<rect x="147.7" y="283.9" width="82.70000000000002" height="66.5" fill="none" stroke="#2a2a2a" stroke-width="1.1"/>
<path d="M144.5 350.4h3.2M147.7 350.4v3.2M145.7 345.4h2.0M153.9 350.4v2.0M145.7 342.5h2.0M157.6 350.4v2.0M145.7 340.4h2.0M160.1 350.4v2.0M145.7 338.8h2.0M162.2 350.4v2.0M145.7 337.5h2.0M163.8 350.4v2.0M145.7 336.4h2.0M165.2 350.4v2.0M145.7 335.4h2.0M166.4 350.4v2.0M145.7 334.5h2.0M167.4 350.4v2.0M144.5 333.8h3.2M168.4 350.4v3.2M145.7 328.8h2.0M174.6 350.4v2.0M145.7 325.8h2.0M178.2 350.4v2.0M145.7 323.8h2.0M180.8 350.4v2.0M145.7 322.2h2.0M182.8 350.4v2.0M145.7 320.8h2.0M184.5 350.4v2.0M145.7 319.7h2.0M185.8 350.4v2.0M145.7 318.8h2.0M187.0 350.4v2.0M145.7 317.9h2.0M188.1 350.4v2.0M144.5 317.1h3.2M189.1 350.4v3.2M145.7 312.1h2.0M195.3 350.4v2.0M145.7 309.2h2.0M198.9 350.4v2.0M145.7 307.1h2.0M201.5 350.4v2.0M145.7 305.5h2.0M203.5 350.4v2.0M145.7 304.2h2.0M205.1 350.4v2.0M145.7 303.1h2.0M206.5 350.4v2.0M145.7 302.1h2.0M207.7 350.4v2.0M145.7 301.3h2.0M208.8 350.4v2.0M144.5 300.5h3.2M209.7 350.4v3.2M145.7 295.5h2.0M215.9 350.4v2.0M145.7 292.6h2.0M219.6 350.4v2.0M145.7 290.5h2.0M222.2 350.4v2.0M145.7 288.9h2.0M224.2 350.4v2.0M145.7 287.6h2.0M225.8 350.4v2.0M145.7 286.5h2.0M227.2 350.4v2.0M145.7 285.5h2.0M228.4 350.4v2.0M145.7 284.7h2.0M229.5 350.4v2.0" stroke="#222" stroke-width="0.9" fill="none"/>
<clipPath id="cp2"><rect x="239.2" y="283.9" width="83.10000000000002" height="66.70000000000005"/></clipPath>
<line x1="263.1" y1="283.9" x2="263.1" y2="350.6" stroke="#444" stroke-width="0.9" />
<line x1="239.2" y1="335.0" x2="322.3" y2="335.0" stroke="#444" stroke-width="0.9" />
<g clip-path="url(#cp2)">
<polygon points="255.0,349.8 252.9,341.5 254.3,333.9 258.9,330.5 264.7,324.6 269.3,316.6 275.1,309.7 282.0,307.3 288.9,306.2 294.7,308.4 299.3,312.6 295.8,316.6 290.0,323.5 285.5,328.2 280.8,333.9 277.4,338.5 274.9,342.0 272.3,349.8" fill="#161616" stroke="none" stroke-width="1" />
<path d="M285 286.5h1M285 287.5h1M288 287.5h1M283 288.5h1M285 288.5h1M295 288.5h1M289 289.5h1M290 289.5h1M281 290.5h1M283 290.5h1M286 290.5h1M289 290.5h1M279 291.5h1M280 291.5h1M284 291.5h1M285 291.5h1M287 291.5h1M288 291.5h1M289 291.5h1M294 291.5h1M280 292.5h1M282 292.5h1M283 292.5h1M285 292.5h1M286 292.5h1M291 292.5h1M296 292.5h1M297 292.5h1M278 293.5h1M280 293.5h1M286 293.5h1M287 293.5h1M288 293.5h1M293 293.5h1M275 294.5h1M276 294.5h1M279 294.5h1M281 294.5h1M285 294.5h1M287 294.5h1M290 294.5h1M273 295.5h1M278 295.5h1M283 295.5h1M284 295.5h1M286 295.5h1M289 295.5h1M274 296.5h1M282 296.5h1M284 296.5h1M285 296.5h1M289 296.5h1M292 296.5h1M296 296.5h1M275 297.5h1M279 297.5h1M281 297.5h1M282 297.5h1M283 297.5h1M284 297.5h1M286 297.5h1M293 297.5h1M297 297.5h1M272 298.5h1M277 298.5h1M278 298.5h1M280 298.5h1M281 298.5h1M287 298.5h1M288 298.5h1M291 298.5h1M293 298.5h1M294 298.5h1M297 298.5h1M267 299.5h1M272 299.5h1M273 299.5h1M274 299.5h1M275 299.5h1M276 299.5h1M278 299.5h1M280 299.5h1M284 299.5h1M285 299.5h1M287 299.5h1M292 299.5h1M294 299.5h1M296 299.5h1M267 300.5h1M275 300.5h1M276 300.5h1M277 300.5h1M278 300.5h1M280 300.5h1M282 300.5h1M285 300.5h1M286 300.5h1M287 300.5h1M290 300.5h1M296 300.5h1M270 301.5h1M275 301.5h1M277 301.5h1M278 301.5h1M280 301.5h1M282 301.5h1M285 301.5h1M289 301.5h1M290 301.5h1M293 301.5h1M294 301.5h1M298 301.5h1M265 302.5h1M271 302.5h1M275 302.5h1M281 302.5h1M286 302.5h1M287 302.5h1M288 302.5h1M289 302.5h1M292 302.5h1M277 303.5h1M279 303.5h1M283 303.5h1M290 303.5h1M294 303.5h1M303 303.5h1M271 304.5h1M281 304.5h1M282 304.5h1M283 304.5h1M285 304.5h1M288 304.5h1M289 304.5h1M290 304.5h1M292 304.5h1M293 304.5h1M296 304.5h1M297 304.5h1M298 304.5h1M269 305.5h1M273 305.5h1M275 305.5h1M278 305.5h1M279 305.5h1M280 305.5h1M281 305.5h1M282 305.5h1M283 305.5h1M284 305.5h1M285 305.5h1M286 305.5h1M287 305.5h1M288 305.5h1M292 305.5h1M293 305.5h1M298 305.5h1M299 305.5h1M267 306.5h1M269 306.5h1M270 306.5h1M274 306.5h1M276 306.5h1M277 306.5h1M280 306.5h1M281 306.5h1M283 306.5h1M284 306.5h1M285 306.5h1M286 306.5h1M290 306.5h1M291 306.5h1M293 306.5h1M294 306.5h1M295 306.5h1M296 306.5h1M300 306.5h1M248 307.5h1M269 307.5h1M275 307.5h1M277 307.5h1M278 307.5h1M279 307.5h1M280 307.5h1M293 307.5h1M294 307.5h1M295 307.5h1M271 308.5h1M273 308.5h1M276 308.5h1M277 308.5h1M278 308.5h1M295 308.5h1M271 309.5h1M274 309.5h1M275 309.5h1M296 309.5h1M297 309.5h1M300 309.5h1M262 310.5h1M263 310.5h1M267 310.5h1M270 310.5h1M273 310.5h1M297 310.5h1M298 310.5h1M265 311.5h1M266 311.5h1M267 311.5h1M268 311.5h1M270 311.5h1M271 311.5h1M272 311.5h1M273 311.5h1M299 311.5h1M302 311.5h1M264 312.5h1M266 312.5h1M270 312.5h1M272 312.5h1M301 312.5h1M262 313.5h1M263 313.5h1M264 313.5h1M270 313.5h1M271 313.5h1M264 314.5h1M268 314.5h1M269 314.5h1M298 314.5h1M261 315.5h1M266 315.5h1M267 315.5h1M299 315.5h1M262 316.5h1M265 316.5h1M268 316.5h1M264 317.5h1M267 317.5h1M268 317.5h1M254 318.5h1M260 318.5h1M263 318.5h1M264 318.5h1M265 318.5h1M266 318.5h1M267 318.5h1M294 318.5h1M267 319.5h1M293 319.5h1M262 320.5h1M263 320.5h1M253 321.5h1M265 321.5h1M292 321.5h1M293 321.5h1M253 322.5h1M256 322.5h1M259 322.5h1M262 322.5h1M263 322.5h1M293 322.5h1M258 323.5h1M259 323.5h1M262 323.5h1M264 323.5h1M290 323.5h1M292 323.5h1M294 323.5h1M260 324.5h1M262 324.5h1M263 324.5h1M264 324.5h1M289 324.5h1M290 324.5h1M259 325.5h1M262 325.5h1M288 325.5h1M292 325.5h1M255 326.5h1M257 326.5h1M259 326.5h1M260 326.5h1M289 326.5h1M241 327.5h1M249 327.5h1M257 327.5h1M259 327.5h1M260 327.5h1M261 327.5h1M286 327.5h1M290 327.5h1M249 328.5h1M252 328.5h1M253 328.5h1M257 328.5h1M258 328.5h1M260 328.5h1M246 329.5h1M252 329.5h1M256 329.5h1M258 329.5h1M259 329.5h1M284 329.5h1M249 330.5h1M253 330.5h1M254 330.5h1M257 330.5h1M258 330.5h1M288 330.5h1M243 331.5h1M252 331.5h1M254 331.5h1M255 331.5h1M256 331.5h1M257 331.5h1M283 331.5h1M287 331.5h1M241 332.5h1M252 332.5h1M254 332.5h1M255 332.5h1M282 332.5h1M283 332.5h1M239 333.5h1M248 333.5h1M249 333.5h1M250 333.5h1M253 333.5h1M281 333.5h1M282 333.5h1M284 333.5h1M247 334.5h1M248 334.5h1M250 334.5h1M252 334.5h1M253 334.5h1M242 335.5h1M243 335.5h1M245 335.5h1M247 335.5h1M248 335.5h1M250 335.5h1M252 335.5h1M253 335.5h1M280 335.5h1M240 336.5h1M244 336.5h1M246 336.5h1M247 336.5h1M250 336.5h1M251 336.5h1M252 336.5h1M283 336.5h1M241 337.5h1M243 337.5h1M244 337.5h1M246 337.5h1M247 337.5h1M249 337.5h1M250 337.5h1M252 337.5h1M253 337.5h1M278 337.5h1M279 337.5h1M240 338.5h1M241 338.5h1M243 338.5h1M244 338.5h1M245 338.5h1M246 338.5h1M250 338.5h1M251 338.5h1M277 338.5h1M240 339.5h1M243 339.5h1M244 339.5h1M245 339.5h1M249 339.5h1M252 339.5h1M282 339.5h1M239 340.5h1M240 340.5h1M241 340.5h1M242 340.5h1M244 340.5h1M246 340.5h1M248 340.5h1M250 340.5h1M252 340.5h1M247 341.5h1M251 341.5h1M252 341.5h1M275 341.5h1M276 341.5h1M277 341.5h1M280 341.5h1M281 341.5h1M240 342.5h1M241 342.5h1M243 342.5h1M244 342.5h1M245 342.5h1M247 342.5h1M249 342.5h1M252 342.5h1M280 342.5h1M239 343.5h1M242 343.5h1M243 343.5h1M244 343.5h1M245 343.5h1M246 343.5h1M247 343.5h1M252 343.5h1M274 343.5h1M277 343.5h1M279 343.5h1M241 344.5h1M244 344.5h1M245 344.5h1M246 344.5h1M248 344.5h1M250 344.5h1M252 344.5h1M253 344.5h1M274 344.5h1M275 344.5h1M239 345.5h1M241 345.5h1M246 345.5h1M248 345.5h1M249 345.5h1M253 345.5h1M242 346.5h1M244 346.5h1M247 346.5h1M248 346.5h1M249 346.5h1M253 346.5h1M273 346.5h1M239 347.5h1M241 347.5h1M247 347.5h1M273 347.5h1M239 348.5h1M240 348.5h1M247 348.5h1M253 348.5h1M254 348.5h1M239 349.5h1M240 349.5h1M241 349.5h1M248 349.5h1M249 349.5h1M252 349.5h1M254 349.5h1M272 349.5h1M254 350.5h1M255 350.5h1M256 350.5h1M257 350.5h1M258 350.5h1M260 350.5h1M263 350.5h1M264 350.5h1M265 350.5h1M266 350.5h1M268 350.5h1M272 350.5h1M273 350.5h1" stroke="#2a2a2a" stroke-width="1" fill="none"/>
<path d="M283 307.5h1M289 307.5h1M294 308.5h1M278 309.5h1M281 309.5h1M288 309.5h1M278 310.5h1M280 310.5h1M287 310.5h1M274 311.5h1M288 311.5h1M295 311.5h1M296 311.5h1M297 313.5h1M290 314.5h1M297 314.5h1M271 315.5h1M272 315.5h1M282 315.5h1M270 317.5h1M272 317.5h1M269 318.5h1M275 318.5h1M269 319.5h1M270 319.5h1M289 319.5h1M270 320.5h1M271 320.5h1M292 320.5h1M266 321.5h1M271 321.5h1M279 321.5h1M290 321.5h1M266 322.5h1M267 322.5h1M272 322.5h1M277 322.5h1M265 323.5h1M280 323.5h1M286 324.5h1M288 324.5h1M264 325.5h1M274 325.5h1M279 325.5h1M286 325.5h1M274 326.5h1M274 327.5h1M284 327.5h1M262 328.5h1M272 328.5h1M259 330.5h1M263 331.5h1M281 331.5h1M269 332.5h1M273 332.5h1M281 332.5h1M256 333.5h1M257 333.5h1M269 333.5h1M258 334.5h1M260 334.5h1M271 334.5h1M278 334.5h1M268 335.5h1M275 336.5h1M254 337.5h1M260 337.5h1M274 337.5h1M260 338.5h1M262 339.5h1M272 339.5h1M262 340.5h1M260 342.5h1M269 342.5h1M266 343.5h1M256 344.5h1M265 344.5h1M254 345.5h1M256 346.5h1M262 346.5h1M269 346.5h1M255 347.5h1M258 347.5h1M272 347.5h1M265 348.5h1M266 348.5h1M269 348.5h1M271 348.5h1M257 349.5h1M258 349.5h1M259 349.5h1" stroke="#bdbdbd" stroke-width="1" fill="none"/>
</g>
<rect x="239.2" y="283.9" width="83.10000000000002" height="66.70000000000005" fill="none" stroke="#2a2a2a" stroke-width="1.1"/>
<path d="M236.0 350.6h3.2M239.2 350.6v3.2M237.2 345.6h2.0M245.5 350.6v2.0M237.2 342.6h2.0M249.1 350.6v2.0M237.2 340.6h2.0M251.7 350.6v2.0M237.2 338.9h2.0M253.7 350.6v2.0M237.2 337.6h2.0M255.4 350.6v2.0M237.2 336.5h2.0M256.8 350.6v2.0M237.2 335.5h2.0M258.0 350.6v2.0M237.2 334.7h2.0M259.0 350.6v2.0M236.0 333.9h3.2M260.0 350.6v3.2M237.2 328.9h2.0M266.2 350.6v2.0M237.2 326.0h2.0M269.9 350.6v2.0M237.2 323.9h2.0M272.5 350.6v2.0M237.2 322.3h2.0M274.5 350.6v2.0M237.2 320.9h2.0M276.1 350.6v2.0M237.2 319.8h2.0M277.5 350.6v2.0M237.2 318.9h2.0M278.7 350.6v2.0M237.2 318.0h2.0M279.8 350.6v2.0M236.0 317.2h3.2M280.8 350.6v3.2M237.2 312.2h2.0M287.0 350.6v2.0M237.2 309.3h2.0M290.7 350.6v2.0M237.2 307.2h2.0M293.3 350.6v2.0M237.2 305.6h2.0M295.3 350.6v2.0M237.2 304.3h2.0M296.9 350.6v2.0M237.2 303.2h2.0M298.3 350.6v2.0M237.2 302.2h2.0M299.5 350.6v2.0M237.2 301.3h2.0M300.6 350.6v2.0M236.0 300.6h3.2M301.5 350.6v3.2M237.2 295.6h2.0M307.8 350.6v2.0M237.2 292.6h2.0M311.4 350.6v2.0M237.2 290.5h2.0M314.0 350.6v2.0M237.2 288.9h2.0M316.0 350.6v2.0M237.2 287.6h2.0M317.7 350.6v2.0M237.2 286.5h2.0M319.1 350.6v2.0M237.2 285.5h2.0M320.3 350.6v2.0M237.2 284.7h2.0M321.3 350.6v2.0" stroke="#222" stroke-width="0.9" fill="none"/>
<clipPath id="cp3"><rect x="332.6" y="284.0" width="83.0" height="66.89999999999998"/></clipPath>
<line x1="356.4" y1="284.0" x2="356.4" y2="350.9" stroke="#444" stroke-width="0.9" />
<line x1="332.6" y1="334.9" x2="415.6" y2="334.9" stroke="#444" stroke-width="0.9" />
<g clip-path="url(#cp3)">
<polygon points="343.8,349.8 342.5,340.2 348.0,336.0 353.5,333.2 356.4,328.1 360.0,319.9 362.3,310.8 364.6,304.8 367.9,301.7 375.0,300.6 379.6,305.0 385.4,313.0 384.1,319.9 379.6,328.0 374.3,333.2 370.2,337.4 364.6,341.5 360.5,345.7 357.7,349.8" fill="#161616" stroke="none" stroke-width="1" />
<path d="M375 287.5h1M372 290.5h1M364 291.5h1M369 291.5h1M370 291.5h1M371 291.5h1M372 291.5h1M373 291.5h1M375 291.5h1M377 291.5h1M359 292.5h1M369 292.5h1M372 292.5h1M377 292.5h1M384 292.5h1M365 293.5h1M366 293.5h1M369 293.5h1M375 293.5h1M376 293.5h1M366 294.5h1M368 294.5h1M373 294.5h1M375 294.5h1M377 294.5h1M364 295.5h1M367 295.5h1M368 295.5h1M373 295.5h1M374 295.5h1M375 295.5h1M377 295.5h1M362 296.5h1M366 296.5h1M371 296.5h1M372 296.5h1M373 296.5h1M376 296.5h1M378 296.5h1M362 297.5h1M363 297.5h1M368 297.5h1M373 297.5h1M378 297.5h1M385 297.5h1M387 297.5h1M358 298.5h1M362 298.5h1M367 298.5h1M370 298.5h1M371 298.5h1M372 298.5h1M376 298.5h1M377 298.5h1M378 298.5h1M388 298.5h1M358 299.5h1M360 299.5h1M365 299.5h1M366 299.5h1M367 299.5h1M368 299.5h1M369 299.5h1M370 299.5h1M372 299.5h1M374 299.5h1M375 299.5h1M378 299.5h1M379 299.5h1M368 300.5h1M370 300.5h1M372 300.5h1M373 300.5h1M374 300.5h1M377 300.5h1M353 301.5h1M355 301.5h1M360 301.5h1M362 301.5h1M364 301.5h1M365 301.5h1M366 301.5h1M367 301.5h1M368 301.5h1M376 301.5h1M377 301.5h1M380 301.5h1M364 302.5h1M365 302.5h1M366 302.5h1M377 302.5h1M378 302.5h1M381 302.5h1M386 302.5h1M360 303.5h1M364 303.5h1M365 303.5h1M380 303.5h1M358 304.5h1M359 304.5h1M360 304.5h1M363 304.5h1M364 304.5h1M379 304.5h1M380 304.5h1M389 304.5h1M357 305.5h1M360 305.5h1M361 305.5h1M363 305.5h1M381 305.5h1M383 305.5h1M356 306.5h1M360 306.5h1M361 306.5h1M362 306.5h1M363 306.5h1M383 306.5h1M384 306.5h1M391 306.5h1M353 307.5h1M359 307.5h1M381 307.5h1M385 307.5h1M361 308.5h1M362 308.5h1M382 308.5h1M383 308.5h1M384 308.5h1M386 308.5h1M355 309.5h1M358 309.5h1M360 309.5h1M361 309.5h1M386 309.5h1M356 310.5h1M360 310.5h1M361 310.5h1M384 310.5h1M356 311.5h1M358 311.5h1M359 311.5h1M360 311.5h1M384 311.5h1M386 311.5h1M361 312.5h1M386 312.5h1M388 312.5h1M352 313.5h1M357 313.5h1M359 313.5h1M361 313.5h1M385 313.5h1M391 313.5h1M357 314.5h1M359 314.5h1M360 314.5h1M385 314.5h1M386 314.5h1M354 315.5h1M358 315.5h1M360 315.5h1M357 316.5h1M358 316.5h1M359 316.5h1M360 316.5h1M352 317.5h1M355 317.5h1M356 317.5h1M360 317.5h1M385 317.5h1M358 318.5h1M384 318.5h1M356 319.5h1M359 319.5h1M385 319.5h1M342 320.5h1M350 320.5h1M354 320.5h1M355 320.5h1M357 320.5h1M358 320.5h1M359 320.5h1M346 321.5h1M357 321.5h1M358 321.5h1M383 321.5h1M388 321.5h1M353 322.5h1M358 322.5h1M385 322.5h1M347 323.5h1M354 323.5h1M382 323.5h1M350 324.5h1M351 324.5h1M354 324.5h1M356 324.5h1M357 324.5h1M352 325.5h1M356 325.5h1M340 326.5h1M348 326.5h1M354 326.5h1M355 326.5h1M356 326.5h1M380 326.5h1M349 327.5h1M350 327.5h1M351 327.5h1M349 328.5h1M353 328.5h1M354 328.5h1M380 328.5h1M351 329.5h1M353 329.5h1M355 329.5h1M378 329.5h1M339 330.5h1M351 330.5h1M352 330.5h1M353 330.5h1M354 330.5h1M377 330.5h1M379 330.5h1M381 330.5h1M342 331.5h1M344 331.5h1M346 331.5h1M349 331.5h1M353 331.5h1M354 331.5h1M376 331.5h1M336 332.5h1M341 332.5h1M347 332.5h1M348 332.5h1M350 332.5h1M352 332.5h1M375 332.5h1M376 332.5h1M343 333.5h1M345 333.5h1M347 333.5h1M348 333.5h1M351 333.5h1M352 333.5h1M376 333.5h1M378 333.5h1M335 334.5h1M340 334.5h1M341 334.5h1M342 334.5h1M343 334.5h1M344 334.5h1M374 334.5h1M378 334.5h1M337 335.5h1M338 335.5h1M339 335.5h1M342 335.5h1M346 335.5h1M347 335.5h1M348 335.5h1M372 335.5h1M375 335.5h1M334 336.5h1M335 336.5h1M342 336.5h1M345 336.5h1M372 336.5h1M334 337.5h1M337 337.5h1M338 337.5h1M339 337.5h1M341 337.5h1M345 337.5h1M373 337.5h1M335 338.5h1M337 338.5h1M340 338.5h1M341 338.5h1M342 338.5h1M343 338.5h1M344 338.5h1M371 338.5h1M332 339.5h1M334 339.5h1M335 339.5h1M336 339.5h1M338 339.5h1M342 339.5h1M367 339.5h1M368 339.5h1M372 339.5h1M333 340.5h1M334 340.5h1M335 340.5h1M337 340.5h1M338 340.5h1M342 340.5h1M366 340.5h1M368 340.5h1M334 341.5h1M337 341.5h1M340 341.5h1M342 341.5h1M365 341.5h1M366 341.5h1M338 342.5h1M365 342.5h1M366 342.5h1M335 343.5h1M338 343.5h1M341 343.5h1M342 343.5h1M333 344.5h1M334 344.5h1M336 344.5h1M337 344.5h1M338 344.5h1M341 344.5h1M342 344.5h1M362 344.5h1M336 345.5h1M339 345.5h1M340 345.5h1M342 345.5h1M361 345.5h1M334 346.5h1M336 346.5h1M339 346.5h1M340 346.5h1M342 346.5h1M360 346.5h1M361 346.5h1M362 346.5h1M340 347.5h1M343 347.5h1M359 347.5h1M332 348.5h1M333 348.5h1M335 348.5h1M336 348.5h1M337 348.5h1M341 348.5h1M342 348.5h1M343 348.5h1M333 349.5h1M338 349.5h1M340 349.5h1M341 349.5h1M343 349.5h1M359 349.5h1M334 350.5h1M343 350.5h1M345 350.5h1M347 350.5h1M348 350.5h1M349 350.5h1M351 350.5h1M352 350.5h1M355 350.5h1M356 350.5h1M359 350.5h1" stroke="#2a2a2a" stroke-width="1" fill="none"/>
<path d="M369 301.5h1M373 301.5h1M368 302.5h1M371 303.5h1M376 303.5h1M366 304.5h1M372 304.5h1M377 304.5h1M378 304.5h1M367 305.5h1M364 307.5h1M370 308.5h1M377 309.5h1M368 310.5h1M383 310.5h1M362 311.5h1M363 311.5h1M368 314.5h1M361 315.5h1M362 315.5h1M379 315.5h1M383 315.5h1M383 316.5h1M367 318.5h1M375 319.5h1M374 320.5h1M375 321.5h1M382 321.5h1M377 322.5h1M358 323.5h1M358 324.5h1M374 324.5h1M362 326.5h1M378 326.5h1M359 327.5h1M366 327.5h1M374 327.5h1M379 327.5h1M371 328.5h1M374 328.5h1M356 329.5h1M358 329.5h1M369 330.5h1M357 332.5h1M358 332.5h1M353 333.5h1M357 333.5h1M372 333.5h1M373 333.5h1M353 334.5h1M367 335.5h1M368 335.5h1M351 336.5h1M367 336.5h1M347 337.5h1M368 337.5h1M345 338.5h1M349 338.5h1M363 338.5h1M365 338.5h1M368 338.5h1M344 339.5h1M348 339.5h1M360 339.5h1M362 339.5h1M364 339.5h1M365 339.5h1M359 340.5h1M346 341.5h1M350 341.5h1M363 341.5h1M364 341.5h1M343 344.5h1M346 344.5h1M359 344.5h1M350 346.5h1M359 346.5h1M353 348.5h1M356 348.5h1" stroke="#bdbdbd" stroke-width="1" fill="none"/>
</g>
<rect x="332.6" y="284.0" width="83.0" height="66.89999999999998" fill="none" stroke="#2a2a2a" stroke-width="1.1"/>
<path d="M329.4 350.9h3.2M332.6 350.9v3.2M330.6 345.9h2.0M338.8 350.9v2.0M330.6 342.9h2.0M342.5 350.9v2.0M330.6 340.8h2.0M345.1 350.9v2.0M330.6 339.2h2.0M347.1 350.9v2.0M330.6 337.9h2.0M348.7 350.9v2.0M330.6 336.8h2.0M350.1 350.9v2.0M330.6 335.8h2.0M351.3 350.9v2.0M330.6 334.9h2.0M352.4 350.9v2.0M329.4 334.2h3.2M353.4 350.9v3.2M330.6 329.1h2.0M359.6 350.9v2.0M330.6 326.2h2.0M363.3 350.9v2.0M330.6 324.1h2.0M365.8 350.9v2.0M330.6 322.5h2.0M367.9 350.9v2.0M330.6 321.2h2.0M369.5 350.9v2.0M330.6 320.0h2.0M370.9 350.9v2.0M330.6 319.1h2.0M372.1 350.9v2.0M330.6 318.2h2.0M373.2 350.9v2.0M329.4 317.4h3.2M374.1 350.9v3.2M330.6 312.4h2.0M380.3 350.9v2.0M330.6 309.5h2.0M384.0 350.9v2.0M330.6 307.4h2.0M386.6 350.9v2.0M330.6 305.8h2.0M388.6 350.9v2.0M330.6 304.4h2.0M390.2 350.9v2.0M330.6 303.3h2.0M391.6 350.9v2.0M330.6 302.3h2.0M392.8 350.9v2.0M330.6 301.5h2.0M393.9 350.9v2.0M329.4 300.7h3.2M394.9 350.9v3.2M330.6 295.7h2.0M401.1 350.9v2.0M330.6 292.7h2.0M404.8 350.9v2.0M330.6 290.7h2.0M407.3 350.9v2.0M330.6 289.0h2.0M409.4 350.9v2.0M330.6 287.7h2.0M411.0 350.9v2.0M330.6 286.6h2.0M412.4 350.9v2.0M330.6 285.6h2.0M413.6 350.9v2.0M330.6 284.8h2.0M414.7 350.9v2.0" stroke="#222" stroke-width="0.9" fill="none"/>
<clipPath id="cp4"><rect x="426.0" y="284.2" width="81.69999999999999" height="66.60000000000002"/></clipPath>
<line x1="448.8" y1="284.2" x2="448.8" y2="350.8" stroke="#444" stroke-width="0.9" />
<line x1="426.0" y1="334.2" x2="507.7" y2="334.2" stroke="#444" stroke-width="0.9" />
<g clip-path="url(#cp4)">
<polygon points="450.4,332.7 455.0,328.0 459.6,319.9 463.0,310.8 464.8,301.4 466.5,293.5 470.0,287.8 474.5,285.5 479.2,288.9 482.7,297.0 484.2,305.0 480.4,312.0 474.5,319.9 468.9,327.0 464.2,331.6 460.8,334.5 455.8,336.7 451.7,336.0" fill="#161616" stroke="none" stroke-width="1" />
<path d="M463 284.5h1M470 284.5h1M472 284.5h1M473 284.5h1M474 284.5h1M475 284.5h1M477 284.5h1M478 284.5h1M479 284.5h1M482 284.5h1M466 285.5h1M470 285.5h1M471 285.5h1M472 285.5h1M473 285.5h1M475 285.5h1M477 285.5h1M478 285.5h1M479 285.5h1M484 285.5h1M463 286.5h1M468 286.5h1M470 286.5h1M471 286.5h1M472 286.5h1M476 286.5h1M477 286.5h1M461 287.5h1M467 287.5h1M468 287.5h1M470 287.5h1M477 287.5h1M478 287.5h1M479 287.5h1M481 287.5h1M462 288.5h1M463 288.5h1M467 288.5h1M468 288.5h1M469 288.5h1M458 289.5h1M466 289.5h1M467 289.5h1M468 289.5h1M479 289.5h1M466 290.5h1M467 290.5h1M480 290.5h1M483 290.5h1M484 290.5h1M452 291.5h1M456 291.5h1M464 291.5h1M466 291.5h1M467 291.5h1M481 291.5h1M460 292.5h1M464 292.5h1M465 292.5h1M481 292.5h1M462 293.5h1M464 293.5h1M465 293.5h1M466 293.5h1M481 293.5h1M482 293.5h1M483 293.5h1M457 294.5h1M464 294.5h1M465 294.5h1M461 295.5h1M462 295.5h1M463 295.5h1M464 295.5h1M465 295.5h1M486 295.5h1M458 296.5h1M465 296.5h1M484 296.5h1M458 297.5h1M462 297.5h1M463 297.5h1M464 297.5h1M483 297.5h1M485 297.5h1M460 298.5h1M464 298.5h1M483 298.5h1M487 298.5h1M464 299.5h1M483 299.5h1M484 299.5h1M485 299.5h1M459 300.5h1M461 300.5h1M464 300.5h1M483 300.5h1M484 300.5h1M459 301.5h1M463 301.5h1M463 302.5h1M454 303.5h1M462 303.5h1M463 303.5h1M485 303.5h1M462 304.5h1M463 304.5h1M484 304.5h1M485 304.5h1M486 304.5h1M463 305.5h1M484 305.5h1M487 305.5h1M462 306.5h1M463 306.5h1M455 307.5h1M458 307.5h1M460 307.5h1M462 307.5h1M463 307.5h1M460 308.5h1M462 308.5h1M483 308.5h1M459 309.5h1M460 309.5h1M461 309.5h1M482 309.5h1M462 310.5h1M482 310.5h1M451 311.5h1M462 311.5h1M481 311.5h1M457 312.5h1M460 312.5h1M461 312.5h1M480 312.5h1M451 313.5h1M456 313.5h1M479 313.5h1M483 313.5h1M459 314.5h1M460 314.5h1M461 314.5h1M482 314.5h1M486 314.5h1M446 315.5h1M452 315.5h1M453 315.5h1M459 315.5h1M484 315.5h1M453 316.5h1M455 316.5h1M457 316.5h1M458 316.5h1M459 316.5h1M460 316.5h1M457 317.5h1M458 317.5h1M459 317.5h1M460 317.5h1M481 317.5h1M483 317.5h1M455 318.5h1M459 318.5h1M476 318.5h1M446 319.5h1M456 319.5h1M458 319.5h1M459 319.5h1M475 319.5h1M477 319.5h1M454 320.5h1M455 320.5h1M456 320.5h1M458 320.5h1M474 320.5h1M445 321.5h1M450 321.5h1M452 321.5h1M453 321.5h1M456 321.5h1M457 321.5h1M458 321.5h1M452 322.5h1M454 322.5h1M456 322.5h1M457 322.5h1M472 322.5h1M453 323.5h1M455 323.5h1M456 323.5h1M457 323.5h1M472 323.5h1M453 324.5h1M455 324.5h1M456 324.5h1M475 324.5h1M477 324.5h1M449 325.5h1M451 325.5h1M452 325.5h1M455 325.5h1M470 325.5h1M435 326.5h1M449 326.5h1M452 326.5h1M453 326.5h1M454 326.5h1M455 326.5h1M445 327.5h1M448 327.5h1M454 327.5h1M468 327.5h1M470 327.5h1M437 328.5h1M445 328.5h1M447 328.5h1M448 328.5h1M450 328.5h1M452 328.5h1M453 328.5h1M454 328.5h1M467 328.5h1M472 328.5h1M440 329.5h1M444 329.5h1M451 329.5h1M452 329.5h1M453 329.5h1M467 329.5h1M474 329.5h1M439 330.5h1M441 330.5h1M442 330.5h1M449 330.5h1M450 330.5h1M466 330.5h1M433 331.5h1M435 331.5h1M436 331.5h1M441 331.5h1M444 331.5h1M448 331.5h1M450 331.5h1M451 331.5h1M464 331.5h1M428 332.5h1M433 332.5h1M436 332.5h1M437 332.5h1M440 332.5h1M443 332.5h1M445 332.5h1M450 332.5h1M463 332.5h1M464 332.5h1M431 333.5h1M433 333.5h1M439 333.5h1M447 333.5h1M450 333.5h1M428 334.5h1M436 334.5h1M438 334.5h1M441 334.5h1M450 334.5h1M461 334.5h1M469 334.5h1M428 335.5h1M431 335.5h1M433 335.5h1M435 335.5h1M437 335.5h1M450 335.5h1M451 335.5h1M432 336.5h1M436 336.5h1M437 336.5h1M439 336.5h1M440 336.5h1M442 336.5h1M445 336.5h1M447 336.5h1M450 336.5h1M451 336.5h1M456 336.5h1M458 336.5h1M459 336.5h1M461 336.5h1M464 336.5h1M466 336.5h1M428 337.5h1M433 337.5h1M435 337.5h1M437 337.5h1M440 337.5h1M450 337.5h1M458 337.5h1M429 338.5h1M430 338.5h1M432 338.5h1M434 338.5h1M438 338.5h1M443 338.5h1M447 338.5h1M450 338.5h1M451 338.5h1M452 338.5h1M456 338.5h1M430 339.5h1M431 339.5h1M433 339.5h1M438 339.5h1M440 339.5h1M441 339.5h1M442 339.5h1M444 339.5h1M445 339.5h1M447 339.5h1M452 339.5h1M455 339.5h1M461 339.5h1M430 340.5h1M442 340.5h1M444 340.5h1M446 340.5h1M451 340.5h1M454 340.5h1M457 340.5h1M428 341.5h1M435 341.5h1M437 341.5h1M443 341.5h1M449 341.5h1M451 341.5h1M452 341.5h1M456 341.5h1M462 341.5h1M426 342.5h1M432 342.5h1M433 342.5h1M435 342.5h1M438 342.5h1M439 342.5h1M445 342.5h1M447 342.5h1M448 342.5h1M449 342.5h1M453 342.5h1M455 342.5h1M459 342.5h1M437 343.5h1M442 343.5h1M443 343.5h1M444 343.5h1M449 343.5h1M460 343.5h1M436 344.5h1M437 344.5h1M442 344.5h1M443 344.5h1M444 344.5h1M448 344.5h1M450 344.5h1M453 344.5h1M427 345.5h1M431 345.5h1M437 345.5h1M439 345.5h1M442 345.5h1M444 345.5h1M445 345.5h1M429 346.5h1M437 346.5h1M443 346.5h1M444 346.5h1M445 346.5h1M450 346.5h1M451 346.5h1M453 346.5h1M426 347.5h1M427 347.5h1M429 347.5h1M430 347.5h1M434 347.5h1M435 347.5h1M440 347.5h1M445 347.5h1M446 347.5h1M447 347.5h1M450 347.5h1M454 347.5h1M431 348.5h1M433 348.5h1M435 348.5h1M437 348.5h1M439 348.5h1M453 348.5h1M454 348.5h1M427 349.5h1M428 349.5h1M429 349.5h1M430 349.5h1M434 349.5h1M437 349.5h1M438 349.5h1M443 349.5h1M446 349.5h1" stroke="#2a2a2a" stroke-width="1" fill="none"/>
<path d="M474 285.5h1M473 288.5h1M478 288.5h1M471 290.5h1M474 290.5h1M468 291.5h1M480 292.5h1M470 294.5h1M480 294.5h1M466 295.5h1M465 298.5h1M474 298.5h1M480 298.5h1M471 300.5h1M470 302.5h1M478 302.5h1M482 302.5h1M464 303.5h1M465 303.5h1M466 303.5h1M468 304.5h1M481 304.5h1M464 305.5h1M474 305.5h1M476 305.5h1M479 305.5h1M464 306.5h1M464 307.5h1M480 307.5h1M482 307.5h1M464 308.5h1M467 308.5h1M480 308.5h1M481 308.5h1M468 309.5h1M465 310.5h1M463 311.5h1M463 312.5h1M471 312.5h1M478 312.5h1M468 313.5h1M478 313.5h1M462 314.5h1M465 314.5h1M477 314.5h1M478 314.5h1M463 316.5h1M465 319.5h1M459 320.5h1M464 322.5h1M471 322.5h1M458 324.5h1M469 324.5h1M463 326.5h1M457 327.5h1M464 327.5h1M466 328.5h1M458 330.5h1M459 330.5h1M463 330.5h1M463 331.5h1M451 332.5h1M462 332.5h1M452 333.5h1M454 333.5h1M452 334.5h1M459 334.5h1M460 334.5h1M456 335.5h1M457 335.5h1" stroke="#bdbdbd" stroke-width="1" fill="none"/>
</g>
<rect x="426.0" y="284.2" width="81.69999999999999" height="66.60000000000002" fill="none" stroke="#2a2a2a" stroke-width="1.1"/>
<path d="M422.8 350.8h3.2M426.0 350.8v3.2M424.0 345.8h2.0M432.1 350.8v2.0M424.0 342.9h2.0M435.7 350.8v2.0M424.0 340.8h2.0M438.3 350.8v2.0M424.0 339.2h2.0M440.3 350.8v2.0M424.0 337.8h2.0M441.9 350.8v2.0M424.0 336.7h2.0M443.3 350.8v2.0M424.0 335.8h2.0M444.4 350.8v2.0M424.0 334.9h2.0M445.5 350.8v2.0M422.8 334.1h3.2M446.4 350.8v3.2M424.0 329.1h2.0M452.6 350.8v2.0M424.0 326.2h2.0M456.2 350.8v2.0M424.0 324.1h2.0M458.7 350.8v2.0M424.0 322.5h2.0M460.7 350.8v2.0M424.0 321.2h2.0M462.3 350.8v2.0M424.0 320.1h2.0M463.7 350.8v2.0M424.0 319.1h2.0M464.9 350.8v2.0M424.0 318.3h2.0M465.9 350.8v2.0M422.8 317.5h3.2M466.9 350.8v3.2M424.0 312.5h2.0M473.0 350.8v2.0M424.0 309.6h2.0M476.6 350.8v2.0M424.0 307.5h2.0M479.1 350.8v2.0M424.0 305.9h2.0M481.1 350.8v2.0M424.0 304.5h2.0M482.7 350.8v2.0M424.0 303.4h2.0M484.1 350.8v2.0M424.0 302.5h2.0M485.3 350.8v2.0M424.0 301.6h2.0M486.3 350.8v2.0M422.8 300.9h3.2M487.3 350.8v3.2M424.0 295.8h2.0M493.4 350.8v2.0M424.0 292.9h2.0M497.0 350.8v2.0M424.0 290.8h2.0M499.6 350.8v2.0M424.0 289.2h2.0M501.6 350.8v2.0M424.0 287.9h2.0M503.2 350.8v2.0M424.0 286.8h2.0M504.5 350.8v2.0M424.0 285.8h2.0M505.7 350.8v2.0M424.0 285.0h2.0M506.8 350.8v2.0" stroke="#222" stroke-width="0.9" fill="none"/>
<clipPath id="cp5"><rect x="61.4" y="367.2" width="84.5" height="66.69999999999999"/></clipPath>
<line x1="85.6" y1="367.2" x2="85.6" y2="433.9" stroke="#444" stroke-width="0.9" />
<line x1="61.4" y1="418.4" x2="145.9" y2="418.4" stroke="#444" stroke-width="0.9" />
<g clip-path="url(#cp5)">
<polygon points="61.5,433.2 61.5,419.4 70.1,417.3 79.8,414.5 89.5,411.1 97.8,405.5 104.7,400.0 110.2,397.9 113.7,400.0 114.4,404.2 111.6,408.3 106.1,413.8 99.2,419.4 93.6,424.9 89.5,430.5 86.7,433.2" fill="#161616" stroke="none" stroke-width="1" />
<path d="M123 384.5h1M126 385.5h1M110 386.5h1M123 386.5h1M124 386.5h1M96 387.5h1M123 388.5h1M108 389.5h1M122 389.5h1M103 390.5h1M100 391.5h1M103 391.5h1M117 391.5h1M109 392.5h1M112 392.5h1M123 392.5h1M101 393.5h1M108 393.5h1M111 393.5h1M120 393.5h1M85 394.5h1M91 394.5h1M98 394.5h1M99 394.5h1M107 394.5h1M118 394.5h1M93 395.5h1M96 395.5h1M103 395.5h1M106 395.5h1M108 395.5h1M112 395.5h1M116 395.5h1M117 395.5h1M95 396.5h1M106 396.5h1M107 396.5h1M109 396.5h1M111 396.5h1M115 396.5h1M120 396.5h1M96 397.5h1M102 397.5h1M106 397.5h1M107 397.5h1M109 397.5h1M110 397.5h1M113 397.5h1M114 397.5h1M76 398.5h1M90 398.5h1M99 398.5h1M100 398.5h1M101 398.5h1M102 398.5h1M103 398.5h1M104 398.5h1M106 398.5h1M107 398.5h1M108 398.5h1M111 398.5h1M112 398.5h1M116 398.5h1M83 399.5h1M94 399.5h1M101 399.5h1M103 399.5h1M104 399.5h1M105 399.5h1M113 399.5h1M114 399.5h1M115 399.5h1M119 399.5h1M85 400.5h1M103 400.5h1M95 401.5h1M101 401.5h1M102 401.5h1M120 401.5h1M88 402.5h1M94 402.5h1M98 402.5h1M99 402.5h1M101 402.5h1M114 402.5h1M80 403.5h1M81 403.5h1M88 403.5h1M95 403.5h1M97 403.5h1M98 403.5h1M99 403.5h1M114 403.5h1M68 404.5h1M93 404.5h1M94 404.5h1M114 404.5h1M96 405.5h1M97 405.5h1M81 406.5h1M83 406.5h1M92 406.5h1M94 406.5h1M95 406.5h1M114 406.5h1M61 407.5h1M78 407.5h1M86 407.5h1M88 407.5h1M92 407.5h1M93 407.5h1M113 407.5h1M78 408.5h1M84 408.5h1M90 408.5h1M91 408.5h1M111 408.5h1M112 408.5h1M114 408.5h1M82 409.5h1M84 409.5h1M89 409.5h1M90 409.5h1M110 409.5h1M66 410.5h1M67 410.5h1M69 410.5h1M76 410.5h1M77 410.5h1M80 410.5h1M82 410.5h1M83 410.5h1M84 410.5h1M85 410.5h1M86 410.5h1M87 410.5h1M88 410.5h1M89 410.5h1M109 410.5h1M110 410.5h1M111 410.5h1M62 411.5h1M69 411.5h1M76 411.5h1M78 411.5h1M81 411.5h1M82 411.5h1M86 411.5h1M87 411.5h1M108 411.5h1M69 412.5h1M72 412.5h1M75 412.5h1M76 412.5h1M79 412.5h1M81 412.5h1M82 412.5h1M83 412.5h1M84 412.5h1M108 412.5h1M73 413.5h1M74 413.5h1M75 413.5h1M76 413.5h1M78 413.5h1M81 413.5h1M82 413.5h1M106 413.5h1M66 414.5h1M68 414.5h1M69 414.5h1M72 414.5h1M73 414.5h1M75 414.5h1M76 414.5h1M78 414.5h1M79 414.5h1M105 414.5h1M108 414.5h1M63 415.5h1M66 415.5h1M67 415.5h1M69 415.5h1M70 415.5h1M72 415.5h1M73 415.5h1M74 415.5h1M75 415.5h1M62 416.5h1M63 416.5h1M66 416.5h1M67 416.5h1M68 416.5h1M69 416.5h1M70 416.5h1M72 416.5h1M62 417.5h1M64 417.5h1M66 417.5h1M67 417.5h1M68 417.5h1M104 417.5h1M61 418.5h1M62 418.5h1M63 418.5h1M64 418.5h1M103 418.5h1M99 420.5h1M97 421.5h1M99 421.5h1M97 422.5h1M93 425.5h1M92 426.5h1M95 426.5h1M92 427.5h1M91 428.5h1M89 430.5h1M93 430.5h1M88 431.5h1M90 431.5h1M87 432.5h1M89 432.5h1M90 432.5h1M61 433.5h1M62 433.5h1M63 433.5h1M64 433.5h1M65 433.5h1M67 433.5h1M68 433.5h1M69 433.5h1M70 433.5h1M72 433.5h1M73 433.5h1M74 433.5h1M75 433.5h1M76 433.5h1M77 433.5h1M78 433.5h1M79 433.5h1M80 433.5h1M81 433.5h1M82 433.5h1M83 433.5h1M85 433.5h1M96 433.5h1" stroke="#2a2a2a" stroke-width="1" fill="none"/>
<path d="M111 399.5h1M106 400.5h1M107 400.5h1M108 402.5h1M109 402.5h1M102 403.5h1M113 403.5h1M99 404.5h1M104 404.5h1M107 404.5h1M113 404.5h1M101 405.5h1M96 406.5h1M97 406.5h1M100 406.5h1M106 406.5h1M96 407.5h1M106 408.5h1M90 410.5h1M99 410.5h1M88 411.5h1M91 411.5h1M93 411.5h1M94 411.5h1M86 412.5h1M101 412.5h1M85 413.5h1M90 413.5h1M100 414.5h1M101 414.5h1M76 415.5h1M78 415.5h1M102 415.5h1M95 416.5h1M73 417.5h1M75 417.5h1M78 417.5h1M82 417.5h1M68 418.5h1M99 418.5h1M69 419.5h1M82 419.5h1M84 419.5h1M91 419.5h1M71 420.5h1M92 420.5h1M62 421.5h1M74 421.5h1M86 421.5h1M61 422.5h1M63 422.5h1M64 422.5h1M75 422.5h1M91 422.5h1M94 422.5h1M95 422.5h1M66 423.5h1M72 424.5h1M80 424.5h1M65 425.5h1M91 425.5h1M64 426.5h1M78 426.5h1M90 426.5h1M91 426.5h1M71 427.5h1M64 428.5h1M67 428.5h1M77 428.5h1M79 428.5h1M82 428.5h1M86 428.5h1M63 429.5h1M61 430.5h1M62 430.5h1M62 431.5h1M70 431.5h1M71 431.5h1M80 431.5h1M87 431.5h1M61 432.5h1M69 432.5h1M71 432.5h1M78 432.5h1M80 432.5h1M84 432.5h1" stroke="#bdbdbd" stroke-width="1" fill="none"/>
</g>
<rect x="61.4" y="367.2" width="84.5" height="66.69999999999999" fill="none" stroke="#2a2a2a" stroke-width="1.1"/>
<path d="M58.2 433.9h3.2M61.4 433.9v3.2M59.4 428.9h2.0M67.8 433.9v2.0M59.4 425.9h2.0M71.5 433.9v2.0M59.4 423.9h2.0M74.1 433.9v2.0M59.4 422.2h2.0M76.2 433.9v2.0M59.4 420.9h2.0M77.8 433.9v2.0M59.4 419.8h2.0M79.3 433.9v2.0M59.4 418.8h2.0M80.5 433.9v2.0M59.4 418.0h2.0M81.6 433.9v2.0M58.2 417.2h3.2M82.5 433.9v3.2M59.4 412.2h2.0M88.9 433.9v2.0M59.4 409.3h2.0M92.6 433.9v2.0M59.4 407.2h2.0M95.2 433.9v2.0M59.4 405.6h2.0M97.3 433.9v2.0M59.4 404.2h2.0M99.0 433.9v2.0M59.4 403.1h2.0M100.4 433.9v2.0M59.4 402.2h2.0M101.6 433.9v2.0M59.4 401.3h2.0M102.7 433.9v2.0M58.2 400.5h3.2M103.7 433.9v3.2M59.4 395.5h2.0M110.0 433.9v2.0M59.4 392.6h2.0M113.7 433.9v2.0M59.4 390.5h2.0M116.4 433.9v2.0M59.4 388.9h2.0M118.4 433.9v2.0M59.4 387.6h2.0M120.1 433.9v2.0M59.4 386.5h2.0M121.5 433.9v2.0M59.4 385.5h2.0M122.7 433.9v2.0M59.4 384.6h2.0M123.8 433.9v2.0M58.2 383.9h3.2M124.8 433.9v3.2M59.4 378.9h2.0M131.1 433.9v2.0M59.4 375.9h2.0M134.9 433.9v2.0M59.4 373.8h2.0M137.5 433.9v2.0M59.4 372.2h2.0M139.5 433.9v2.0M59.4 370.9h2.0M141.2 433.9v2.0M59.4 369.8h2.0M142.6 433.9v2.0M59.4 368.8h2.0M143.9 433.9v2.0M59.4 368.0h2.0M144.9 433.9v2.0" stroke="#222" stroke-width="0.9" fill="none"/>
<clipPath id="cp6"><rect x="153.1" y="367.0" width="83.20000000000002" height="66.39999999999998"/></clipPath>
<line x1="177.0" y1="367.0" x2="177.0" y2="433.4" stroke="#444" stroke-width="0.9" />
<line x1="153.1" y1="418.1" x2="236.3" y2="418.1" stroke="#444" stroke-width="0.9" />
<g clip-path="url(#cp6)">
<polygon points="153.1,432.5 153.1,418.0 155.3,417.3 162.2,415.0 170.2,411.5 179.5,406.9 188.8,405.8 194.5,408.0 195.7,410.4 191.2,416.2 185.3,421.9 180.6,427.7 178.0,432.5" fill="#161616" stroke="none" stroke-width="1" />
<path d="M215 387.5h1M181 389.5h1M188 389.5h1M201 389.5h1M216 389.5h1M204 391.5h1M189 392.5h1M193 394.5h1M158 395.5h1M174 396.5h1M181 396.5h1M195 396.5h1M189 398.5h1M207 398.5h1M187 399.5h1M189 399.5h1M202 399.5h1M182 400.5h1M189 400.5h1M157 401.5h1M181 401.5h1M184 401.5h1M175 402.5h1M181 402.5h1M187 402.5h1M196 402.5h1M201 402.5h1M189 403.5h1M191 403.5h1M155 404.5h1M169 404.5h1M175 404.5h1M176 404.5h1M178 404.5h1M184 404.5h1M185 404.5h1M186 404.5h1M187 404.5h1M188 404.5h1M189 404.5h1M197 404.5h1M160 405.5h1M180 405.5h1M181 405.5h1M182 405.5h1M185 405.5h1M186 405.5h1M187 405.5h1M188 405.5h1M191 405.5h1M193 405.5h1M194 405.5h1M154 406.5h1M168 406.5h1M171 406.5h1M175 406.5h1M176 406.5h1M177 406.5h1M178 406.5h1M179 406.5h1M181 406.5h1M182 406.5h1M191 406.5h1M193 406.5h1M157 407.5h1M159 407.5h1M167 407.5h1M168 407.5h1M170 407.5h1M172 407.5h1M173 407.5h1M174 407.5h1M175 407.5h1M176 407.5h1M177 407.5h1M194 407.5h1M157 408.5h1M162 408.5h1M167 408.5h1M173 408.5h1M174 408.5h1M175 408.5h1M195 408.5h1M196 408.5h1M197 408.5h1M198 408.5h1M154 409.5h1M163 409.5h1M169 409.5h1M172 409.5h1M195 409.5h1M196 409.5h1M163 410.5h1M167 410.5h1M169 410.5h1M170 410.5h1M171 410.5h1M196 410.5h1M162 411.5h1M163 411.5h1M167 411.5h1M168 411.5h1M169 411.5h1M195 411.5h1M198 411.5h1M159 412.5h1M163 412.5h1M164 412.5h1M165 412.5h1M166 412.5h1M167 412.5h1M156 413.5h1M158 413.5h1M160 413.5h1M165 413.5h1M193 413.5h1M194 413.5h1M196 413.5h1M154 414.5h1M156 414.5h1M158 414.5h1M160 414.5h1M161 414.5h1M162 414.5h1M192 414.5h1M193 414.5h1M154 415.5h1M156 415.5h1M158 415.5h1M159 415.5h1M160 415.5h1M192 415.5h1M195 415.5h1M154 416.5h1M155 416.5h1M157 416.5h1M153 417.5h1M154 417.5h1M190 417.5h1M189 418.5h1M191 418.5h1M189 419.5h1M187 420.5h1M188 420.5h1M181 427.5h1M180 428.5h1M180 429.5h1M179 431.5h1M178 432.5h1M179 432.5h1M180 432.5h1M153 433.5h1M154 433.5h1M156 433.5h1M157 433.5h1M158 433.5h1M159 433.5h1M166 433.5h1M169 433.5h1M175 433.5h1" stroke="#2a2a2a" stroke-width="1" fill="none"/>
<path d="M185 406.5h1M188 406.5h1M189 406.5h1M183 407.5h1M184 407.5h1M190 407.5h1M176 408.5h1M192 408.5h1M175 409.5h1M176 409.5h1M188 409.5h1M194 409.5h1M175 410.5h1M178 410.5h1M181 410.5h1M184 410.5h1M195 410.5h1M176 411.5h1M188 411.5h1M193 412.5h1M171 413.5h1M176 413.5h1M186 413.5h1M167 415.5h1M171 416.5h1M190 416.5h1M156 417.5h1M189 417.5h1M154 419.5h1M186 419.5h1M155 420.5h1M175 420.5h1M172 422.5h1M184 422.5h1M153 423.5h1M163 423.5h1M167 423.5h1M166 424.5h1M168 424.5h1M177 424.5h1M179 424.5h1M182 424.5h1M173 425.5h1M155 426.5h1M168 426.5h1M180 427.5h1M161 428.5h1M157 429.5h1M168 429.5h1M179 429.5h1M157 430.5h1M170 431.5h1M173 431.5h1M175 431.5h1M154 432.5h1M159 432.5h1M161 432.5h1M162 432.5h1" stroke="#bdbdbd" stroke-width="1" fill="none"/>
</g>
<rect x="153.1" y="367.0" width="83.20000000000002" height="66.39999999999998" fill="none" stroke="#2a2a2a" stroke-width="1.1"/>
<path d="M149.9 433.4h3.2M153.1 433.4v3.2M151.1 428.4h2.0M159.4 433.4v2.0M151.1 425.5h2.0M163.0 433.4v2.0M151.1 423.4h2.0M165.6 433.4v2.0M151.1 421.8h2.0M167.6 433.4v2.0M151.1 420.5h2.0M169.3 433.4v2.0M151.1 419.4h2.0M170.7 433.4v2.0M151.1 418.4h2.0M171.9 433.4v2.0M151.1 417.6h2.0M172.9 433.4v2.0M149.9 416.8h3.2M173.9 433.4v3.2M151.1 411.8h2.0M180.2 433.4v2.0M151.1 408.9h2.0M183.8 433.4v2.0M151.1 406.8h2.0M186.4 433.4v2.0M151.1 405.2h2.0M188.4 433.4v2.0M151.1 403.9h2.0M190.1 433.4v2.0M151.1 402.8h2.0M191.5 433.4v2.0M151.1 401.8h2.0M192.7 433.4v2.0M151.1 401.0h2.0M193.7 433.4v2.0M149.9 400.2h3.2M194.7 433.4v3.2M151.1 395.2h2.0M201.0 433.4v2.0M151.1 392.3h2.0M204.6 433.4v2.0M151.1 390.2h2.0M207.2 433.4v2.0M151.1 388.6h2.0M209.2 433.4v2.0M151.1 387.3h2.0M210.9 433.4v2.0M151.1 386.2h2.0M212.3 433.4v2.0M151.1 385.2h2.0M213.5 433.4v2.0M151.1 384.4h2.0M214.5 433.4v2.0M149.9 383.6h3.2M215.5 433.4v3.2M151.1 378.6h2.0M221.8 433.4v2.0M151.1 375.7h2.0M225.4 433.4v2.0M151.1 373.6h2.0M228.0 433.4v2.0M151.1 372.0h2.0M230.0 433.4v2.0M151.1 370.7h2.0M231.7 433.4v2.0M151.1 369.6h2.0M233.1 433.4v2.0M151.1 368.6h2.0M234.3 433.4v2.0M151.1 367.8h2.0M235.3 433.4v2.0" stroke="#222" stroke-width="0.9" fill="none"/>
<clipPath id="cp7"><rect x="241.8" y="366.8" width="84.39999999999998" height="66.59999999999997"/></clipPath>
<line x1="265.4" y1="366.8" x2="265.4" y2="433.4" stroke="#444" stroke-width="0.9" />
<line x1="241.8" y1="418.1" x2="326.2" y2="418.1" stroke="#444" stroke-width="0.9" />
<g clip-path="url(#cp7)">
<polygon points="241.7,432.5 241.7,415.9 248.3,414.5 256.6,411.8 262.0,408.7 267.8,405.3 273.5,400.6 279.3,396.0 285.1,391.4 292.1,388.0 297.7,386.8 300.1,390.2 298.8,394.7 295.5,400.6 289.7,408.7 283.9,415.6 279.3,421.5 274.6,426.3 270.5,432.5" fill="#161616" stroke="none" stroke-width="1" />
<path d="M292 373.5h1M299 373.5h1M303 374.5h1M304 374.5h1M284 375.5h1M292 375.5h1M293 375.5h1M295 375.5h1M301 375.5h1M287 376.5h1M292 376.5h1M294 376.5h1M285 377.5h1M286 377.5h1M290 377.5h1M291 377.5h1M292 377.5h1M296 377.5h1M297 377.5h1M299 377.5h1M282 378.5h1M288 378.5h1M292 378.5h1M300 378.5h1M303 378.5h1M305 378.5h1M307 378.5h1M286 379.5h1M287 379.5h1M290 379.5h1M291 379.5h1M292 379.5h1M293 379.5h1M294 379.5h1M305 379.5h1M307 379.5h1M282 380.5h1M283 380.5h1M285 380.5h1M296 380.5h1M278 381.5h1M285 381.5h1M289 381.5h1M290 381.5h1M292 381.5h1M296 381.5h1M298 381.5h1M299 381.5h1M303 381.5h1M278 382.5h1M280 382.5h1M286 382.5h1M289 382.5h1M291 382.5h1M293 382.5h1M297 382.5h1M302 382.5h1M309 382.5h1M283 383.5h1M285 383.5h1M286 383.5h1M287 383.5h1M290 383.5h1M296 383.5h1M301 383.5h1M303 383.5h1M307 383.5h1M308 383.5h1M309 383.5h1M278 384.5h1M283 384.5h1M285 384.5h1M286 384.5h1M289 384.5h1M290 384.5h1M292 384.5h1M294 384.5h1M298 384.5h1M300 384.5h1M306 384.5h1M307 384.5h1M290 385.5h1M291 385.5h1M294 385.5h1M296 385.5h1M297 385.5h1M298 385.5h1M304 385.5h1M276 386.5h1M278 386.5h1M281 386.5h1M282 386.5h1M288 386.5h1M289 386.5h1M291 386.5h1M293 386.5h1M296 386.5h1M298 386.5h1M302 386.5h1M278 387.5h1M285 387.5h1M288 387.5h1M291 387.5h1M292 387.5h1M293 387.5h1M298 387.5h1M302 387.5h1M303 387.5h1M266 388.5h1M272 388.5h1M275 388.5h1M278 388.5h1M289 388.5h1M290 388.5h1M299 388.5h1M307 388.5h1M273 389.5h1M276 389.5h1M277 389.5h1M281 389.5h1M286 389.5h1M287 389.5h1M300 389.5h1M275 390.5h1M284 390.5h1M286 390.5h1M300 390.5h1M276 391.5h1M281 391.5h1M283 391.5h1M284 391.5h1M300 391.5h1M260 392.5h1M262 392.5h1M276 392.5h1M280 392.5h1M281 392.5h1M282 392.5h1M299 392.5h1M302 392.5h1M306 392.5h1M271 393.5h1M275 393.5h1M276 393.5h1M279 393.5h1M281 393.5h1M299 393.5h1M301 393.5h1M258 394.5h1M273 394.5h1M274 394.5h1M275 394.5h1M276 394.5h1M277 394.5h1M278 394.5h1M279 394.5h1M280 394.5h1M299 394.5h1M267 395.5h1M268 395.5h1M274 395.5h1M275 395.5h1M276 395.5h1M278 395.5h1M279 395.5h1M298 395.5h1M299 395.5h1M269 396.5h1M273 396.5h1M274 396.5h1M276 396.5h1M277 396.5h1M278 396.5h1M299 396.5h1M252 397.5h1M272 397.5h1M275 397.5h1M276 397.5h1M297 397.5h1M271 398.5h1M272 398.5h1M274 398.5h1M275 398.5h1M297 398.5h1M298 398.5h1M259 399.5h1M269 399.5h1M272 399.5h1M273 399.5h1M274 399.5h1M299 399.5h1M263 400.5h1M272 400.5h1M273 400.5h1M296 400.5h1M299 400.5h1M300 400.5h1M301 400.5h1M261 401.5h1M263 401.5h1M267 401.5h1M268 401.5h1M270 401.5h1M271 401.5h1M295 401.5h1M258 402.5h1M268 402.5h1M269 402.5h1M294 402.5h1M242 403.5h1M251 403.5h1M264 403.5h1M268 403.5h1M269 403.5h1M250 404.5h1M259 404.5h1M262 404.5h1M267 404.5h1M268 404.5h1M293 404.5h1M294 404.5h1M248 405.5h1M252 405.5h1M260 405.5h1M261 405.5h1M264 405.5h1M265 405.5h1M266 405.5h1M292 405.5h1M241 406.5h1M243 406.5h1M246 406.5h1M248 406.5h1M255 406.5h1M260 406.5h1M262 406.5h1M264 406.5h1M291 406.5h1M294 406.5h1M243 407.5h1M245 407.5h1M251 407.5h1M253 407.5h1M259 407.5h1M260 407.5h1M262 407.5h1M263 407.5h1M291 407.5h1M246 408.5h1M249 408.5h1M253 408.5h1M256 408.5h1M258 408.5h1M260 408.5h1M261 408.5h1M290 408.5h1M294 408.5h1M257 409.5h1M258 409.5h1M260 409.5h1M289 409.5h1M292 409.5h1M241 410.5h1M244 410.5h1M247 410.5h1M249 410.5h1M251 410.5h1M252 410.5h1M254 410.5h1M255 410.5h1M257 410.5h1M258 410.5h1M288 410.5h1M247 411.5h1M253 411.5h1M255 411.5h1M256 411.5h1M288 411.5h1M294 411.5h1M241 412.5h1M242 412.5h1M246 412.5h1M247 412.5h1M248 412.5h1M249 412.5h1M251 412.5h1M252 412.5h1M253 412.5h1M243 413.5h1M244 413.5h1M245 413.5h1M247 413.5h1M248 413.5h1M250 413.5h1M286 413.5h1M241 414.5h1M243 414.5h1M245 414.5h1M246 414.5h1M241 415.5h1M242 415.5h1M284 415.5h1M285 415.5h1M241 416.5h1M283 416.5h1M285 416.5h1M282 417.5h1M241 419.5h1M241 420.5h1M281 420.5h1M282 420.5h1M241 421.5h1M241 422.5h1M279 422.5h1M241 423.5h1M279 423.5h1M241 424.5h1M276 424.5h1M241 425.5h1M241 426.5h1M274 426.5h1M241 427.5h1M274 427.5h1M272 429.5h1M274 429.5h1M241 430.5h1M272 430.5h1M241 431.5h1M271 431.5h1M274 431.5h1M270 432.5h1M244 433.5h1M246 433.5h1M250 433.5h1M252 433.5h1M253 433.5h1M254 433.5h1M255 433.5h1M259 433.5h1M267 433.5h1M268 433.5h1" stroke="#2a2a2a" stroke-width="1" fill="none"/>
<path d="M296 387.5h1M298 388.5h1M289 389.5h1M290 389.5h1M293 389.5h1M297 390.5h1M299 390.5h1M285 391.5h1M287 391.5h1M290 391.5h1M298 391.5h1M282 393.5h1M285 393.5h1M291 394.5h1M293 394.5h1M298 394.5h1M288 395.5h1M289 395.5h1M296 395.5h1M282 396.5h1M281 397.5h1M296 397.5h1M276 399.5h1M293 400.5h1M295 400.5h1M273 401.5h1M280 401.5h1M290 401.5h1M291 402.5h1M281 403.5h1M284 403.5h1M271 404.5h1M274 404.5h1M277 404.5h1M292 404.5h1M274 406.5h1M286 407.5h1M261 409.5h1M262 410.5h1M286 410.5h1M286 411.5h1M258 412.5h1M266 412.5h1M251 413.5h1M264 413.5h1M248 414.5h1M250 414.5h1M251 414.5h1M268 414.5h1M244 415.5h1M247 415.5h1M248 415.5h1M268 415.5h1M283 415.5h1M242 416.5h1M246 416.5h1M282 416.5h1M242 417.5h1M245 417.5h1M267 417.5h1M274 417.5h1M243 418.5h1M250 418.5h1M268 418.5h1M281 418.5h1M242 419.5h1M248 419.5h1M265 419.5h1M266 419.5h1M268 419.5h1M277 419.5h1M242 420.5h1M272 420.5h1M249 421.5h1M266 421.5h1M269 421.5h1M277 421.5h1M256 422.5h1M269 422.5h1M277 422.5h1M246 423.5h1M249 423.5h1M251 423.5h1M258 423.5h1M262 423.5h1M275 424.5h1M242 425.5h1M257 425.5h1M265 425.5h1M273 425.5h1M258 426.5h1M243 427.5h1M256 427.5h1M247 428.5h1M261 428.5h1M270 428.5h1M243 429.5h1M252 429.5h1M255 429.5h1M264 429.5h1M271 430.5h1M243 431.5h1M246 431.5h1M247 431.5h1M248 431.5h1M266 431.5h1M270 431.5h1M243 432.5h1M246 432.5h1M248 432.5h1M251 432.5h1M253 432.5h1M256 432.5h1M260 432.5h1M268 432.5h1" stroke="#bdbdbd" stroke-width="1" fill="none"/>
</g>
<rect x="241.8" y="366.8" width="84.39999999999998" height="66.59999999999997" fill="none" stroke="#2a2a2a" stroke-width="1.1"/>
<path d="M238.6 433.4h3.2M241.8 433.4v3.2M239.8 428.4h2.0M248.2 433.4v2.0M239.8 425.5h2.0M251.9 433.4v2.0M239.8 423.4h2.0M254.5 433.4v2.0M239.8 421.8h2.0M256.5 433.4v2.0M239.8 420.4h2.0M258.2 433.4v2.0M239.8 419.3h2.0M259.6 433.4v2.0M239.8 418.4h2.0M260.9 433.4v2.0M239.8 417.5h2.0M261.9 433.4v2.0M238.6 416.8h3.2M262.9 433.4v3.2M239.8 411.7h2.0M269.3 433.4v2.0M239.8 408.8h2.0M273.0 433.4v2.0M239.8 406.7h2.0M275.6 433.4v2.0M239.8 405.1h2.0M277.6 433.4v2.0M239.8 403.8h2.0M279.3 433.4v2.0M239.8 402.7h2.0M280.7 433.4v2.0M239.8 401.7h2.0M282.0 433.4v2.0M239.8 400.9h2.0M283.0 433.4v2.0M238.6 400.1h3.2M284.0 433.4v3.2M239.8 395.1h2.0M290.4 433.4v2.0M239.8 392.2h2.0M294.1 433.4v2.0M239.8 390.1h2.0M296.7 433.4v2.0M239.8 388.5h2.0M298.7 433.4v2.0M239.8 387.1h2.0M300.4 433.4v2.0M239.8 386.0h2.0M301.8 433.4v2.0M239.8 385.1h2.0M303.1 433.4v2.0M239.8 384.2h2.0M304.1 433.4v2.0M238.6 383.4h3.2M305.1 433.4v3.2M239.8 378.4h2.0M311.5 433.4v2.0M239.8 375.5h2.0M315.2 433.4v2.0M239.8 373.4h2.0M317.8 433.4v2.0M239.8 371.8h2.0M319.8 433.4v2.0M239.8 370.5h2.0M321.5 433.4v2.0M239.8 369.4h2.0M322.9 433.4v2.0M239.8 368.4h2.0M324.2 433.4v2.0M239.8 367.6h2.0M325.2 433.4v2.0" stroke="#222" stroke-width="0.9" fill="none"/>
<clipPath id="cp8"><rect x="332.0" y="366.8" width="84.19999999999999" height="66.59999999999997"/></clipPath>
<line x1="356.1" y1="366.8" x2="356.1" y2="433.4" stroke="#444" stroke-width="0.9" />
<line x1="332.0" y1="418.2" x2="416.2" y2="418.2" stroke="#444" stroke-width="0.9" />
<g clip-path="url(#cp8)">
<polygon points="332.1,432.5 332.1,417.3 339.7,415.2 348.0,412.5 353.5,409.8 359.2,405.3 365.0,399.4 373.1,392.5 375.4,389.1 386.9,389.1 390.4,392.5 389.3,394.7 384.6,402.9 378.7,409.8 373.1,416.8 368.8,422.2 364.6,427.7 361.2,432.5" fill="#161616" stroke="none" stroke-width="1" />
<path d="M374 371.5h1M381 371.5h1M383 371.5h1M379 372.5h1M386 372.5h1M375 373.5h1M380 373.5h1M383 373.5h1M374 374.5h1M377 374.5h1M379 374.5h1M376 375.5h1M377 375.5h1M378 375.5h1M385 375.5h1M389 375.5h1M372 376.5h1M374 376.5h1M376 376.5h1M377 376.5h1M378 376.5h1M381 376.5h1M384 376.5h1M385 376.5h1M386 376.5h1M375 377.5h1M377 377.5h1M379 377.5h1M382 377.5h1M383 377.5h1M385 377.5h1M386 377.5h1M387 377.5h1M388 377.5h1M389 377.5h1M370 378.5h1M376 378.5h1M378 378.5h1M384 378.5h1M387 378.5h1M373 379.5h1M374 379.5h1M383 379.5h1M384 379.5h1M388 379.5h1M390 379.5h1M370 380.5h1M371 380.5h1M373 380.5h1M377 380.5h1M378 380.5h1M389 380.5h1M391 380.5h1M392 380.5h1M369 381.5h1M373 381.5h1M379 381.5h1M381 381.5h1M389 381.5h1M391 381.5h1M367 382.5h1M378 382.5h1M387 382.5h1M391 382.5h1M392 382.5h1M366 383.5h1M370 383.5h1M380 383.5h1M381 383.5h1M385 383.5h1M388 383.5h1M391 383.5h1M393 383.5h1M397 383.5h1M367 384.5h1M368 384.5h1M373 384.5h1M376 384.5h1M377 384.5h1M379 384.5h1M381 384.5h1M382 384.5h1M385 384.5h1M389 384.5h1M394 384.5h1M367 385.5h1M372 385.5h1M376 385.5h1M377 385.5h1M378 385.5h1M385 385.5h1M391 385.5h1M394 385.5h1M365 386.5h1M367 386.5h1M371 386.5h1M374 386.5h1M377 386.5h1M378 386.5h1M384 386.5h1M385 386.5h1M387 386.5h1M389 386.5h1M390 386.5h1M394 386.5h1M396 386.5h1M367 387.5h1M372 387.5h1M373 387.5h1M375 387.5h1M376 387.5h1M378 387.5h1M379 387.5h1M380 387.5h1M381 387.5h1M382 387.5h1M383 387.5h1M384 387.5h1M385 387.5h1M387 387.5h1M389 387.5h1M391 387.5h1M368 388.5h1M370 388.5h1M372 388.5h1M375 388.5h1M376 388.5h1M378 388.5h1M381 388.5h1M382 388.5h1M383 388.5h1M386 388.5h1M391 388.5h1M394 388.5h1M365 389.5h1M366 389.5h1M374 389.5h1M387 389.5h1M388 389.5h1M389 389.5h1M390 389.5h1M365 390.5h1M369 390.5h1M372 390.5h1M373 390.5h1M393 390.5h1M363 391.5h1M364 391.5h1M365 391.5h1M366 391.5h1M369 391.5h1M372 391.5h1M373 391.5h1M389 391.5h1M391 391.5h1M393 391.5h1M364 392.5h1M369 392.5h1M370 392.5h1M390 392.5h1M391 392.5h1M392 392.5h1M363 393.5h1M368 393.5h1M369 393.5h1M370 393.5h1M371 393.5h1M391 393.5h1M362 394.5h1M365 394.5h1M366 394.5h1M367 394.5h1M368 394.5h1M370 394.5h1M389 394.5h1M362 395.5h1M364 395.5h1M368 395.5h1M369 395.5h1M392 395.5h1M346 396.5h1M353 396.5h1M360 396.5h1M363 396.5h1M367 396.5h1M388 396.5h1M361 397.5h1M364 397.5h1M365 397.5h1M366 397.5h1M388 397.5h1M342 398.5h1M358 398.5h1M360 398.5h1M364 398.5h1M352 399.5h1M359 399.5h1M362 399.5h1M363 399.5h1M364 399.5h1M344 400.5h1M345 400.5h1M359 400.5h1M361 400.5h1M362 400.5h1M386 400.5h1M387 400.5h1M356 401.5h1M358 401.5h1M359 401.5h1M360 401.5h1M361 401.5h1M362 401.5h1M386 401.5h1M333 402.5h1M336 402.5h1M358 402.5h1M359 402.5h1M361 402.5h1M341 403.5h1M344 403.5h1M349 403.5h1M355 403.5h1M357 403.5h1M359 403.5h1M360 403.5h1M384 403.5h1M352 404.5h1M355 404.5h1M358 404.5h1M386 404.5h1M354 405.5h1M358 405.5h1M382 405.5h1M335 406.5h1M345 406.5h1M347 406.5h1M353 406.5h1M354 406.5h1M355 406.5h1M357 406.5h1M348 407.5h1M350 407.5h1M353 407.5h1M354 407.5h1M355 407.5h1M381 407.5h1M341 408.5h1M346 408.5h1M349 408.5h1M350 408.5h1M352 408.5h1M353 408.5h1M354 408.5h1M337 409.5h1M339 409.5h1M349 409.5h1M350 409.5h1M351 409.5h1M352 409.5h1M353 409.5h1M382 409.5h1M345 410.5h1M349 410.5h1M350 410.5h1M351 410.5h1M378 410.5h1M379 410.5h1M385 410.5h1M334 411.5h1M336 411.5h1M339 411.5h1M342 411.5h1M346 411.5h1M347 411.5h1M348 411.5h1M349 411.5h1M377 411.5h1M378 411.5h1M333 412.5h1M334 412.5h1M338 412.5h1M339 412.5h1M340 412.5h1M342 412.5h1M345 412.5h1M346 412.5h1M347 412.5h1M377 412.5h1M378 412.5h1M335 413.5h1M336 413.5h1M338 413.5h1M342 413.5h1M343 413.5h1M344 413.5h1M333 414.5h1M335 414.5h1M336 414.5h1M337 414.5h1M338 414.5h1M339 414.5h1M340 414.5h1M375 414.5h1M333 415.5h1M335 415.5h1M336 415.5h1M337 415.5h1M338 415.5h1M374 415.5h1M332 416.5h1M333 416.5h1M334 416.5h1M373 416.5h1M372 417.5h1M372 418.5h1M369 421.5h1M365 427.5h1M363 429.5h1M333 433.5h1M334 433.5h1M335 433.5h1M340 433.5h1M343 433.5h1M345 433.5h1M346 433.5h1M349 433.5h1M351 433.5h1M354 433.5h1M356 433.5h1M357 433.5h1M358 433.5h1M359 433.5h1" stroke="#2a2a2a" stroke-width="1" fill="none"/>
<path d="M379 389.5h1M380 389.5h1M381 389.5h1M382 389.5h1M375 390.5h1M374 391.5h1M377 391.5h1M385 391.5h1M387 391.5h1M382 392.5h1M387 392.5h1M375 393.5h1M389 393.5h1M379 394.5h1M370 395.5h1M385 395.5h1M368 397.5h1M378 397.5h1M383 398.5h1M365 401.5h1M382 401.5h1M368 402.5h1M382 403.5h1M380 404.5h1M382 404.5h1M360 405.5h1M364 405.5h1M369 406.5h1M381 406.5h1M372 407.5h1M365 408.5h1M354 409.5h1M378 409.5h1M352 410.5h1M354 410.5h1M358 410.5h1M374 410.5h1M377 410.5h1M351 411.5h1M366 411.5h1M354 412.5h1M362 412.5h1M364 412.5h1M371 412.5h1M345 413.5h1M358 413.5h1M365 413.5h1M367 413.5h1M343 414.5h1M370 414.5h1M341 415.5h1M352 415.5h1M361 415.5h1M371 415.5h1M367 416.5h1M336 417.5h1M346 417.5h1M336 418.5h1M345 418.5h1M369 418.5h1M356 419.5h1M357 419.5h1M343 420.5h1M359 420.5h1M361 420.5h1M367 420.5h1M333 421.5h1M334 421.5h1M367 422.5h1M333 423.5h1M340 423.5h1M355 423.5h1M333 424.5h1M357 424.5h1M359 424.5h1M360 424.5h1M334 425.5h1M356 425.5h1M365 425.5h1M352 426.5h1M365 426.5h1M335 427.5h1M349 428.5h1M351 428.5h1M361 428.5h1M362 428.5h1M363 428.5h1M340 429.5h1M353 429.5h1M362 429.5h1M335 430.5h1M338 430.5h1M340 430.5h1M360 430.5h1M362 430.5h1M332 431.5h1M336 431.5h1M344 431.5h1M349 431.5h1M351 431.5h1M354 431.5h1M332 432.5h1M335 432.5h1M338 432.5h1M342 432.5h1M343 432.5h1M345 432.5h1M346 432.5h1M347 432.5h1M352 432.5h1" stroke="#bdbdbd" stroke-width="1" fill="none"/>
</g>
<rect x="332.0" y="366.8" width="84.19999999999999" height="66.59999999999997" fill="none" stroke="#2a2a2a" stroke-width="1.1"/>
<path d="M328.8 433.4h3.2M332.0 433.4v3.2M330.0 428.4h2.0M338.3 433.4v2.0M330.0 425.5h2.0M342.0 433.4v2.0M330.0 423.4h2.0M344.7 433.4v2.0M330.0 421.8h2.0M346.7 433.4v2.0M330.0 420.4h2.0M348.4 433.4v2.0M330.0 419.3h2.0M349.8 433.4v2.0M330.0 418.4h2.0M351.0 433.4v2.0M330.0 417.5h2.0M352.1 433.4v2.0M328.8 416.8h3.2M353.1 433.4v3.2M330.0 411.7h2.0M359.4 433.4v2.0M330.0 408.8h2.0M363.1 433.4v2.0M330.0 406.7h2.0M365.7 433.4v2.0M330.0 405.1h2.0M367.8 433.4v2.0M330.0 403.8h2.0M369.4 433.4v2.0M330.0 402.7h2.0M370.8 433.4v2.0M330.0 401.7h2.0M372.1 433.4v2.0M330.0 400.9h2.0M373.1 433.4v2.0M328.8 400.1h3.2M374.1 433.4v3.2M330.0 395.1h2.0M380.4 433.4v2.0M330.0 392.2h2.0M384.1 433.4v2.0M330.0 390.1h2.0M386.8 433.4v2.0M330.0 388.5h2.0M388.8 433.4v2.0M330.0 387.1h2.0M390.5 433.4v2.0M330.0 386.0h2.0M391.9 433.4v2.0M330.0 385.1h2.0M393.1 433.4v2.0M330.0 384.2h2.0M394.2 433.4v2.0M328.8 383.4h3.2M395.1 433.4v3.2M330.0 378.4h2.0M401.5 433.4v2.0M330.0 375.5h2.0M405.2 433.4v2.0M330.0 373.4h2.0M407.8 433.4v2.0M330.0 371.8h2.0M409.9 433.4v2.0M330.0 370.5h2.0M411.5 433.4v2.0M330.0 369.4h2.0M412.9 433.4v2.0M330.0 368.4h2.0M414.2 433.4v2.0M330.0 367.6h2.0M415.2 433.4v2.0" stroke="#222" stroke-width="0.9" fill="none"/>
<clipPath id="cp9"><rect x="421.0" y="367.0" width="85.0" height="67.0"/></clipPath>
<line x1="445.2" y1="367.0" x2="445.2" y2="434.0" stroke="#444" stroke-width="0.9" />
<line x1="421.0" y1="418.2" x2="506.0" y2="418.2" stroke="#444" stroke-width="0.9" />
<g clip-path="url(#cp9)">
<polygon points="442.5,418.7 445.9,409.8 451.5,404.2 457.4,394.7 459.6,383.2 466.5,375.2 472.3,372.9 476.9,377.4 479.2,384.5 479.2,391.4 474.7,400.6 467.7,408.7 463.0,414.5 458.5,418.7 452.2,420.8" fill="#161616" stroke="none" stroke-width="1" />
<path d="M464 367.5h1M468 368.5h1M472 368.5h1M473 368.5h1M471 369.5h1M474 369.5h1M477 369.5h1M466 370.5h1M468 370.5h1M469 370.5h1M470 370.5h1M471 370.5h1M473 370.5h1M475 370.5h1M476 370.5h1M457 371.5h1M467 371.5h1M470 371.5h1M471 371.5h1M473 371.5h1M474 371.5h1M462 372.5h1M463 372.5h1M465 372.5h1M466 372.5h1M471 372.5h1M472 372.5h1M473 372.5h1M477 372.5h1M462 373.5h1M467 373.5h1M468 373.5h1M469 373.5h1M470 373.5h1M473 373.5h1M474 373.5h1M475 373.5h1M465 374.5h1M466 374.5h1M467 374.5h1M474 374.5h1M477 374.5h1M464 375.5h1M475 375.5h1M476 375.5h1M478 375.5h1M455 376.5h1M457 376.5h1M458 376.5h1M476 376.5h1M477 376.5h1M479 376.5h1M437 377.5h1M458 377.5h1M461 377.5h1M462 377.5h1M464 377.5h1M455 378.5h1M456 378.5h1M462 378.5h1M463 378.5h1M477 378.5h1M478 378.5h1M459 379.5h1M461 379.5h1M462 379.5h1M459 380.5h1M460 380.5h1M461 380.5h1M478 380.5h1M479 380.5h1M482 380.5h1M454 381.5h1M459 381.5h1M460 381.5h1M478 381.5h1M455 382.5h1M456 382.5h1M457 382.5h1M479 382.5h1M454 383.5h1M455 383.5h1M457 383.5h1M458 383.5h1M479 383.5h1M481 383.5h1M483 383.5h1M457 384.5h1M458 384.5h1M484 384.5h1M454 385.5h1M456 385.5h1M457 385.5h1M485 385.5h1M454 386.5h1M457 386.5h1M458 386.5h1M479 387.5h1M443 388.5h1M454 388.5h1M455 388.5h1M456 388.5h1M458 388.5h1M482 388.5h1M483 388.5h1M453 389.5h1M455 389.5h1M457 389.5h1M481 389.5h1M453 390.5h1M454 390.5h1M455 390.5h1M456 390.5h1M479 390.5h1M482 390.5h1M452 391.5h1M455 391.5h1M481 391.5h1M451 392.5h1M452 392.5h1M456 392.5h1M457 392.5h1M457 393.5h1M478 393.5h1M482 393.5h1M446 394.5h1M454 394.5h1M455 394.5h1M456 394.5h1M479 394.5h1M451 395.5h1M453 395.5h1M454 395.5h1M455 395.5h1M456 395.5h1M452 396.5h1M454 396.5h1M455 396.5h1M477 396.5h1M441 397.5h1M450 397.5h1M451 397.5h1M454 397.5h1M455 397.5h1M476 397.5h1M448 398.5h1M449 398.5h1M451 398.5h1M452 398.5h1M453 398.5h1M454 398.5h1M476 398.5h1M449 399.5h1M450 399.5h1M451 399.5h1M453 399.5h1M475 399.5h1M443 400.5h1M448 400.5h1M451 400.5h1M453 400.5h1M478 400.5h1M480 400.5h1M446 401.5h1M447 401.5h1M474 401.5h1M481 401.5h1M446 402.5h1M473 402.5h1M449 403.5h1M450 403.5h1M472 403.5h1M473 403.5h1M444 404.5h1M446 404.5h1M447 404.5h1M448 404.5h1M449 404.5h1M450 404.5h1M471 404.5h1M473 404.5h1M441 405.5h1M449 405.5h1M470 405.5h1M440 406.5h1M442 406.5h1M443 406.5h1M446 406.5h1M447 406.5h1M471 406.5h1M439 407.5h1M443 407.5h1M444 407.5h1M446 407.5h1M447 407.5h1M469 407.5h1M470 407.5h1M474 407.5h1M475 407.5h1M442 408.5h1M443 408.5h1M444 408.5h1M446 408.5h1M468 408.5h1M469 408.5h1M470 408.5h1M445 409.5h1M467 409.5h1M471 409.5h1M441 410.5h1M442 410.5h1M443 410.5h1M466 410.5h1M430 411.5h1M437 411.5h1M440 411.5h1M441 411.5h1M465 411.5h1M467 411.5h1M426 412.5h1M437 412.5h1M439 412.5h1M440 412.5h1M443 412.5h1M444 412.5h1M466 412.5h1M426 413.5h1M432 413.5h1M433 413.5h1M434 413.5h1M435 413.5h1M436 413.5h1M437 413.5h1M442 413.5h1M443 413.5h1M468 413.5h1M422 414.5h1M425 414.5h1M428 414.5h1M429 414.5h1M431 414.5h1M433 414.5h1M434 414.5h1M436 414.5h1M438 414.5h1M441 414.5h1M443 414.5h1M426 415.5h1M427 415.5h1M428 415.5h1M430 415.5h1M432 415.5h1M433 415.5h1M435 415.5h1M436 415.5h1M438 415.5h1M439 415.5h1M440 415.5h1M441 415.5h1M442 415.5h1M443 415.5h1M467 415.5h1M468 415.5h1M424 416.5h1M426 416.5h1M429 416.5h1M430 416.5h1M432 416.5h1M434 416.5h1M437 416.5h1M440 416.5h1M441 416.5h1M461 416.5h1M422 417.5h1M425 417.5h1M427 417.5h1M431 417.5h1M432 417.5h1M435 417.5h1M436 417.5h1M437 417.5h1M441 417.5h1M442 417.5h1M462 417.5h1M425 418.5h1M429 418.5h1M430 418.5h1M432 418.5h1M436 418.5h1M437 418.5h1M438 418.5h1M440 418.5h1M442 418.5h1M460 418.5h1M465 418.5h1M425 419.5h1M426 419.5h1M428 419.5h1M435 419.5h1M437 419.5h1M442 419.5h1M443 419.5h1M445 419.5h1M456 419.5h1M422 420.5h1M424 420.5h1M428 420.5h1M429 420.5h1M430 420.5h1M431 420.5h1M432 420.5h1M433 420.5h1M437 420.5h1M439 420.5h1M442 420.5h1M443 420.5h1M447 420.5h1M449 420.5h1M450 420.5h1M454 420.5h1M456 420.5h1M422 421.5h1M423 421.5h1M426 421.5h1M427 421.5h1M429 421.5h1M434 421.5h1M435 421.5h1M436 421.5h1M437 421.5h1M438 421.5h1M440 421.5h1M441 421.5h1M443 421.5h1M444 421.5h1M445 421.5h1M447 421.5h1M448 421.5h1M450 421.5h1M451 421.5h1M454 421.5h1M459 421.5h1M422 422.5h1M431 422.5h1M432 422.5h1M434 422.5h1M436 422.5h1M437 422.5h1M439 422.5h1M442 422.5h1M444 422.5h1M445 422.5h1M446 422.5h1M447 422.5h1M448 422.5h1M453 422.5h1M458 422.5h1M423 423.5h1M424 423.5h1M425 423.5h1M427 423.5h1M429 423.5h1M438 423.5h1M445 423.5h1M447 423.5h1M448 423.5h1M449 423.5h1M422 424.5h1M425 424.5h1M426 424.5h1M429 424.5h1M431 424.5h1M435 424.5h1M436 424.5h1M437 424.5h1M442 424.5h1M443 424.5h1M446 424.5h1M450 424.5h1M454 424.5h1M455 424.5h1M422 425.5h1M425 425.5h1M426 425.5h1M427 425.5h1M430 425.5h1M431 425.5h1M433 425.5h1M438 425.5h1M440 425.5h1M442 425.5h1M447 425.5h1M449 425.5h1M450 425.5h1M427 426.5h1M430 426.5h1M431 426.5h1M433 426.5h1M439 426.5h1M440 426.5h1M441 426.5h1M443 426.5h1M444 426.5h1M445 426.5h1M446 426.5h1M448 426.5h1M424 427.5h1M425 427.5h1M428 427.5h1M429 427.5h1M430 427.5h1M433 427.5h1M436 427.5h1M437 427.5h1M438 427.5h1M441 427.5h1M442 427.5h1M443 427.5h1M444 427.5h1M446 427.5h1M448 427.5h1M452 427.5h1M455 427.5h1M423 428.5h1M424 428.5h1M425 428.5h1M426 428.5h1M427 428.5h1M434 428.5h1M435 428.5h1M436 428.5h1M437 428.5h1M438 428.5h1M439 428.5h1M445 428.5h1M446 428.5h1M447 428.5h1M448 428.5h1M452 428.5h1M453 428.5h1M423 429.5h1M429 429.5h1M433 429.5h1M435 429.5h1M436 429.5h1M439 429.5h1M440 429.5h1M442 429.5h1M444 429.5h1M445 429.5h1M422 430.5h1M424 430.5h1M426 430.5h1M427 430.5h1M428 430.5h1M431 430.5h1M435 430.5h1M437 430.5h1M440 430.5h1M443 430.5h1M445 430.5h1M446 430.5h1M422 431.5h1M423 431.5h1M426 431.5h1M428 431.5h1M429 431.5h1M430 431.5h1M431 431.5h1M432 431.5h1M433 431.5h1M434 431.5h1M436 431.5h1M439 431.5h1M440 431.5h1M441 431.5h1M446 431.5h1M450 431.5h1M423 432.5h1M424 432.5h1M427 432.5h1M430 432.5h1M438 432.5h1M439 432.5h1" stroke="#2a2a2a" stroke-width="1" fill="none"/>
<path d="M469 374.5h1M471 376.5h1M471 377.5h1M464 378.5h1M476 378.5h1M464 379.5h1M476 379.5h1M477 379.5h1M462 381.5h1M463 382.5h1M460 384.5h1M469 384.5h1M477 384.5h1M476 386.5h1M469 387.5h1M473 387.5h1M460 388.5h1M462 388.5h1M476 388.5h1M458 390.5h1M475 390.5h1M460 391.5h1M465 391.5h1M472 392.5h1M458 393.5h1M477 393.5h1M457 394.5h1M475 394.5h1M477 394.5h1M459 395.5h1M470 395.5h1M476 395.5h1M468 397.5h1M456 398.5h1M468 398.5h1M475 398.5h1M456 399.5h1M464 399.5h1M458 400.5h1M465 401.5h1M467 401.5h1M470 401.5h1M458 402.5h1M462 402.5h1M464 402.5h1M467 402.5h1M472 402.5h1M470 403.5h1M470 404.5h1M451 405.5h1M461 405.5h1M467 405.5h1M469 406.5h1M468 407.5h1M464 408.5h1M452 409.5h1M459 410.5h1M465 410.5h1M451 411.5h1M444 413.5h1M448 415.5h1M454 415.5h1M444 416.5h1M456 416.5h1M458 416.5h1M460 416.5h1M447 417.5h1M458 417.5h1M459 417.5h1M447 418.5h1M458 418.5h1M448 419.5h1M453 419.5h1" stroke="#bdbdbd" stroke-width="1" fill="none"/>
</g>
<rect x="421.0" y="367.0" width="85.0" height="67.0" fill="none" stroke="#2a2a2a" stroke-width="1.1"/>
<path d="M417.8 434.0h3.2M421.0 434.0v3.2M419.0 429.0h2.0M427.4 434.0v2.0M419.0 426.0h2.0M431.1 434.0v2.0M419.0 423.9h2.0M433.8 434.0v2.0M419.0 422.3h2.0M435.9 434.0v2.0M419.0 421.0h2.0M437.5 434.0v2.0M419.0 419.8h2.0M439.0 434.0v2.0M419.0 418.9h2.0M440.2 434.0v2.0M419.0 418.0h2.0M441.3 434.0v2.0M417.8 417.2h3.2M442.2 434.0v3.2M419.0 412.2h2.0M448.6 434.0v2.0M419.0 409.3h2.0M452.4 434.0v2.0M419.0 407.2h2.0M455.0 434.0v2.0M419.0 405.5h2.0M457.1 434.0v2.0M419.0 404.2h2.0M458.8 434.0v2.0M419.0 403.1h2.0M460.2 434.0v2.0M419.0 402.1h2.0M461.4 434.0v2.0M419.0 401.3h2.0M462.5 434.0v2.0M417.8 400.5h3.2M463.5 434.0v3.2M419.0 395.5h2.0M469.9 434.0v2.0M419.0 392.5h2.0M473.6 434.0v2.0M419.0 390.4h2.0M476.3 434.0v2.0M419.0 388.8h2.0M478.4 434.0v2.0M419.0 387.5h2.0M480.0 434.0v2.0M419.0 386.3h2.0M481.5 434.0v2.0M419.0 385.4h2.0M482.7 434.0v2.0M419.0 384.5h2.0M483.8 434.0v2.0M417.8 383.8h3.2M484.8 434.0v3.2M419.0 378.7h2.0M491.1 434.0v2.0M419.0 375.8h2.0M494.9 434.0v2.0M419.0 373.7h2.0M497.5 434.0v2.0M419.0 372.0h2.0M499.6 434.0v2.0M419.0 370.7h2.0M501.3 434.0v2.0M419.0 369.6h2.0M502.7 434.0v2.0M419.0 368.6h2.0M503.9 434.0v2.0M419.0 367.8h2.0M505.0 434.0v2.0" stroke="#222" stroke-width="0.9" fill="none"/>
<text x="102.4" y="280.6" font-size="9.4" font-weight="bold" fill="#111" text-anchor="middle" >Scr</text>
<text x="188.6" y="280.6" font-size="9.4" font-weight="bold" fill="#111" text-anchor="middle" >miR-17-92</text>
<text x="271.5" y="280.6" font-size="9.4" font-weight="bold" fill="#111" text-anchor="middle" >as-19</text>
<text x="365.2" y="280.6" font-size="9.4" font-weight="bold" fill="#111" text-anchor="middle" >as-17</text>
<text x="468.0" y="280.6" font-size="9.4" font-weight="bold" fill="#111" text-anchor="middle" >as-17+19</text>
<text x="135.5" y="323.6" font-size="9.8" font-weight="bold" fill="#111" text-anchor="end" >70%</text>
<text x="229.0" y="322.5" font-size="9.8" font-weight="bold" fill="#111" text-anchor="end" >57%</text>
<text x="320.6" y="322.3" font-size="9.8" font-weight="bold" fill="#111" text-anchor="end" >84%</text>
<text x="414.4" y="322.4" font-size="9.8" font-weight="bold" fill="#111" text-anchor="end" >83%</text>
<text x="507.8" y="323.6" font-size="9.8" font-weight="bold" fill="#111" text-anchor="end" >96%</text>
<text x="144.4" y="401.8" font-size="9.8" font-weight="bold" fill="#111" text-anchor="end" >43%</text>
<text x="227.7" y="401.0" font-size="9.8" font-weight="bold" fill="#111" text-anchor="end" >27%</text>
<text x="325.8" y="400.0" font-size="9.8" font-weight="bold" fill="#111" text-anchor="end" >72%</text>
<text x="416.4" y="399.1" font-size="9.8" font-weight="bold" fill="#111" text-anchor="end" >76%</text>
<text x="505.5" y="400.5" font-size="9.8" font-weight="bold" fill="#111" text-anchor="end" >94%</text>
<text x="40.6" y="321.6" font-size="9.5" font-weight="bold" fill="#111" text-anchor="middle" >R</text>
<text x="44.0" y="411.5" font-size="9.5" font-weight="bold" fill="#111" text-anchor="middle" >R+SS</text>
<text x="44.0" y="451.4" font-size="9.5" font-weight="bold" fill="#111" text-anchor="middle" >CD83</text>
<text x="0.0" y="0.0" font-size="9.5" font-weight="bold" fill="#111" text-anchor="middle" transform="translate(29.3,426) rotate(-90)">TNFα</text>
<line x1="25.9" y1="290.0" x2="25.9" y2="407.5" stroke="#000" stroke-width="2" />
<polyline points="22.0,292.8 25.9,287.5 29.8,292.8" fill="none" stroke="#000" stroke-width="1.8" stroke-linejoin="round" stroke-linejoin="miter"/>
<line x1="70.7" y1="450.3" x2="505.0" y2="450.3" stroke="#000" stroke-width="2" />
<polyline points="499.5,446.3 505.5,450.3 499.5,454.5" fill="none" stroke="#000" stroke-width="1.8" stroke-linejoin="round" stroke-linejoin="miter"/>
<text x="1.5" y="473.5" font-size="12.5" font-weight="bold" fill="#000" text-anchor="start" >C</text>
<line x1="27.3" y1="493.0" x2="27.3" y2="642.0" stroke="#000" stroke-width="2" />
<polyline points="23.1,498.8 27.3,491.6 31.5,498.8" fill="none" stroke="#000" stroke-width="2" stroke-linejoin="round" stroke-linejoin="miter"/>
<text x="0.0" y="0.0" font-size="9.8" font-weight="normal" fill="#111" text-anchor="middle" transform="translate(21,558.7) rotate(-90)">CD83<tspan font-size="6" dy="-3.5">+</tspan><tspan dy="3.5"> TNFα</tspan><tspan font-size="6" dy="-3.5">+</tspan><tspan dy="3.5"> cells (%)</tspan></text>
<line x1="61.1" y1="467.4" x2="61.1" y2="559.7" stroke="#9a9a9a" stroke-width="1.2" />
<line x1="61.1" y1="559.7" x2="268.0" y2="559.7" stroke="#9a9a9a" stroke-width="1.2" />
<line x1="58.1" y1="559.7" x2="61.1" y2="559.7" stroke="#9a9a9a" stroke-width="1" />
<text x="52.6" y="562.5" font-size="7.6" font-weight="normal" fill="#111" text-anchor="end" >0</text>
<line x1="58.1" y1="541.2" x2="61.1" y2="541.2" stroke="#9a9a9a" stroke-width="1" />
<text x="52.6" y="544.0" font-size="7.6" font-weight="normal" fill="#111" text-anchor="end" >20</text>
<line x1="58.1" y1="522.8" x2="61.1" y2="522.8" stroke="#9a9a9a" stroke-width="1" />
<text x="52.6" y="525.5" font-size="7.6" font-weight="normal" fill="#111" text-anchor="end" >40</text>
<line x1="58.1" y1="504.3" x2="61.1" y2="504.3" stroke="#9a9a9a" stroke-width="1" />
<text x="52.6" y="507.1" font-size="7.6" font-weight="normal" fill="#111" text-anchor="end" >60</text>
<line x1="58.1" y1="485.9" x2="61.1" y2="485.9" stroke="#9a9a9a" stroke-width="1" />
<text x="52.6" y="488.6" font-size="7.6" font-weight="normal" fill="#111" text-anchor="end" >80</text>
<line x1="58.1" y1="467.4" x2="61.1" y2="467.4" stroke="#9a9a9a" stroke-width="1" />
<text x="52.6" y="470.1" font-size="7.6" font-weight="normal" fill="#111" text-anchor="end" >100</text>
<polyline points="81.5,505.2 123.3,549.1 165.1,491.9 206.9,497.4 248.7,472.0" fill="none" stroke="#bb534f" stroke-width="3.4" stroke-linejoin="round" />
<polyline points="81.5,496.5 123.3,526.5 165.1,483.1 206.9,479.9 248.7,469.7" fill="none" stroke="#5b86c6" stroke-width="3.4" stroke-linejoin="round" />
<polygon points="81.5,492.5 85.5,496.5 81.5,500.5 77.5,496.5" fill="#86a8da" stroke="#6d93cc" stroke-width="0.8" />
<polygon points="123.3,522.5 127.3,526.5 123.3,530.5 119.3,526.5" fill="#86a8da" stroke="#6d93cc" stroke-width="0.8" />
<polygon points="165.1,479.1 169.1,483.1 165.1,487.1 161.1,483.1" fill="#86a8da" stroke="#6d93cc" stroke-width="0.8" />
<polygon points="206.9,475.9 210.9,479.9 206.9,483.9 202.9,479.9" fill="#86a8da" stroke="#6d93cc" stroke-width="0.8" />
<polygon points="248.7,465.7 252.7,469.7 248.7,473.7 244.7,469.7" fill="#86a8da" stroke="#6d93cc" stroke-width="0.8" />
<rect x="77.3" y="501.0" width="8.4" height="8.4" fill="#dc7c78" stroke="#c46460" stroke-width="0.8"/>
<rect x="119.1" y="544.9" width="8.4" height="8.4" fill="#dc7c78" stroke="#c46460" stroke-width="0.8"/>
<rect x="160.9" y="487.7" width="8.4" height="8.4" fill="#dc7c78" stroke="#c46460" stroke-width="0.8"/>
<rect x="202.7" y="493.2" width="8.4" height="8.4" fill="#dc7c78" stroke="#c46460" stroke-width="0.8"/>
<rect x="244.5" y="467.8" width="8.4" height="8.4" fill="#dc7c78" stroke="#c46460" stroke-width="0.8"/>
<text x="236.6" y="553.8" font-size="9.6" font-weight="bold" fill="#111" text-anchor="start" >Pt. 72</text>
<line x1="287.7" y1="468.7" x2="287.7" y2="558.8" stroke="#9a9a9a" stroke-width="1.2" />
<line x1="287.7" y1="558.8" x2="509.0" y2="558.8" stroke="#9a9a9a" stroke-width="1.2" />
<line x1="284.7" y1="558.8" x2="287.7" y2="558.8" stroke="#9a9a9a" stroke-width="1" />
<text x="278.8" y="561.5" font-size="7.6" font-weight="normal" fill="#111" text-anchor="end" >0</text>
<line x1="284.7" y1="540.8" x2="287.7" y2="540.8" stroke="#9a9a9a" stroke-width="1" />
<text x="278.8" y="543.5" font-size="7.6" font-weight="normal" fill="#111" text-anchor="end" >20</text>
<line x1="284.7" y1="522.8" x2="287.7" y2="522.8" stroke="#9a9a9a" stroke-width="1" />
<text x="278.8" y="525.5" font-size="7.6" font-weight="normal" fill="#111" text-anchor="end" >40</text>
<line x1="284.7" y1="504.7" x2="287.7" y2="504.7" stroke="#9a9a9a" stroke-width="1" />
<text x="278.8" y="507.5" font-size="7.6" font-weight="normal" fill="#111" text-anchor="end" >60</text>
<line x1="284.7" y1="486.7" x2="287.7" y2="486.7" stroke="#9a9a9a" stroke-width="1" />
<text x="278.8" y="489.5" font-size="7.6" font-weight="normal" fill="#111" text-anchor="end" >80</text>
<line x1="284.7" y1="468.7" x2="287.7" y2="468.7" stroke="#9a9a9a" stroke-width="1" />
<text x="278.8" y="471.4" font-size="7.6" font-weight="normal" fill="#111" text-anchor="end" >100</text>
<polyline points="309.0,511.9 353.6,550.2 398.2,502.5 442.8,497.5 487.4,475.9" fill="none" stroke="#bb534f" stroke-width="3.4" stroke-linejoin="round" />
<polyline points="309.0,493.9 353.6,521.0 398.2,489.4 442.8,481.3 487.4,472.3" fill="none" stroke="#5b86c6" stroke-width="3.4" stroke-linejoin="round" />
<polygon points="309.0,489.9 313.0,493.9 309.0,497.9 305.0,493.9" fill="#86a8da" stroke="#6d93cc" stroke-width="0.8" />
<polygon points="353.6,517.0 357.6,521.0 353.6,525.0 349.6,521.0" fill="#86a8da" stroke="#6d93cc" stroke-width="0.8" />
<polygon points="398.2,485.4 402.2,489.4 398.2,493.4 394.2,489.4" fill="#86a8da" stroke="#6d93cc" stroke-width="0.8" />
<polygon points="442.8,477.3 446.8,481.3 442.8,485.3 438.8,481.3" fill="#86a8da" stroke="#6d93cc" stroke-width="0.8" />
<polygon points="487.4,468.3 491.4,472.3 487.4,476.3 483.4,472.3" fill="#86a8da" stroke="#6d93cc" stroke-width="0.8" />
<rect x="304.8" y="507.7" width="8.4" height="8.4" fill="#dc7c78" stroke="#c46460" stroke-width="0.8"/>
<rect x="349.4" y="546.0" width="8.4" height="8.4" fill="#dc7c78" stroke="#c46460" stroke-width="0.8"/>
<rect x="394.0" y="498.3" width="8.4" height="8.4" fill="#dc7c78" stroke="#c46460" stroke-width="0.8"/>
<rect x="438.6" y="493.3" width="8.4" height="8.4" fill="#dc7c78" stroke="#c46460" stroke-width="0.8"/>
<rect x="483.2" y="471.7" width="8.4" height="8.4" fill="#dc7c78" stroke="#c46460" stroke-width="0.8"/>
<text x="476.4" y="553.2" font-size="9.6" font-weight="bold" fill="#111" text-anchor="start" >Pt. 73</text>
<line x1="452.7" y1="516.4" x2="472.9" y2="516.4" stroke="#5b86c6" stroke-width="3.6" />
<polygon points="462.8,513.6 465.6,516.4 462.8,519.2 460.0,516.4" fill="#86a8da" stroke="#6d93cc" stroke-width="0.8" />
<text x="474.2" y="521.2" font-size="9.5" font-weight="bold" fill="#111" text-anchor="start" >R</text>
<line x1="452.7" y1="529.0" x2="472.9" y2="529.0" stroke="#bb534f" stroke-width="3.6" />
<rect x="460" y="526.2" width="5.6" height="5.6" fill="#dc7c78" stroke="#c46460" stroke-width="0.8"/>
<text x="474.2" y="534.3" font-size="9.5" font-weight="bold" fill="#111" text-anchor="start" >R+SS</text>
<line x1="61.8" y1="575.0" x2="61.8" y2="673.0" stroke="#9a9a9a" stroke-width="1.2" />
<line x1="61.8" y1="673.0" x2="270.0" y2="673.0" stroke="#9a9a9a" stroke-width="1.2" />
<line x1="58.8" y1="673.0" x2="61.8" y2="673.0" stroke="#9a9a9a" stroke-width="1" />
<text x="52.4" y="675.8" font-size="7.6" font-weight="normal" fill="#111" text-anchor="end" >0</text>
<line x1="58.8" y1="653.4" x2="61.8" y2="653.4" stroke="#9a9a9a" stroke-width="1" />
<text x="52.4" y="656.1" font-size="7.6" font-weight="normal" fill="#111" text-anchor="end" >20</text>
<line x1="58.8" y1="633.8" x2="61.8" y2="633.8" stroke="#9a9a9a" stroke-width="1" />
<text x="52.4" y="636.5" font-size="7.6" font-weight="normal" fill="#111" text-anchor="end" >40</text>
<line x1="58.8" y1="614.2" x2="61.8" y2="614.2" stroke="#9a9a9a" stroke-width="1" />
<text x="52.4" y="617.0" font-size="7.6" font-weight="normal" fill="#111" text-anchor="end" >60</text>
<line x1="58.8" y1="594.6" x2="61.8" y2="594.6" stroke="#9a9a9a" stroke-width="1" />
<text x="52.4" y="597.4" font-size="7.6" font-weight="normal" fill="#111" text-anchor="end" >80</text>
<line x1="58.8" y1="575.0" x2="61.8" y2="575.0" stroke="#9a9a9a" stroke-width="1" />
<text x="52.4" y="577.8" font-size="7.6" font-weight="normal" fill="#111" text-anchor="end" >100</text>
<polyline points="82.1,630.4 123.8,645.1 166.2,597.5 207.7,601.0 249.2,578.4" fill="none" stroke="#bb534f" stroke-width="3.4" stroke-linejoin="round" />
<polyline points="82.1,603.9 123.8,616.2 166.2,590.4 207.7,589.7 249.2,578.5" fill="none" stroke="#5b86c6" stroke-width="3.4" stroke-linejoin="round" />
<polygon points="82.1,599.9 86.1,603.9 82.1,607.9 78.1,603.9" fill="#86a8da" stroke="#6d93cc" stroke-width="0.8" />
<polygon points="123.8,612.2 127.8,616.2 123.8,620.2 119.8,616.2" fill="#86a8da" stroke="#6d93cc" stroke-width="0.8" />
<polygon points="166.2,586.4 170.2,590.4 166.2,594.4 162.2,590.4" fill="#86a8da" stroke="#6d93cc" stroke-width="0.8" />
<polygon points="207.7,585.7 211.7,589.7 207.7,593.7 203.7,589.7" fill="#86a8da" stroke="#6d93cc" stroke-width="0.8" />
<polygon points="249.2,574.5 253.2,578.5 249.2,582.5 245.2,578.5" fill="#86a8da" stroke="#6d93cc" stroke-width="0.8" />
<rect x="77.9" y="626.2" width="8.4" height="8.4" fill="#dc7c78" stroke="#c46460" stroke-width="0.8"/>
<rect x="119.6" y="640.9" width="8.4" height="8.4" fill="#dc7c78" stroke="#c46460" stroke-width="0.8"/>
<rect x="162.0" y="593.3" width="8.4" height="8.4" fill="#dc7c78" stroke="#c46460" stroke-width="0.8"/>
<rect x="203.5" y="596.8" width="8.4" height="8.4" fill="#dc7c78" stroke="#c46460" stroke-width="0.8"/>
<rect x="245.0" y="574.2" width="8.4" height="8.4" fill="#dc7c78" stroke="#c46460" stroke-width="0.8"/>
<text x="237.1" y="646.5" font-size="9.6" font-weight="bold" fill="#111" text-anchor="start" >Pt.74</text>
<text x="75.4" y="686.0" font-size="9.3" font-weight="normal" fill="#111" text-anchor="middle" >Scr</text>
<text x="122.2" y="686.0" font-size="9.3" font-weight="normal" fill="#111" text-anchor="middle" >miR-17-92</text>
<text x="165.2" y="686.0" font-size="9.3" font-weight="normal" fill="#111" text-anchor="middle" >as-19</text>
<text x="204.7" y="686.0" font-size="9.3" font-weight="normal" fill="#111" text-anchor="middle" >as-17</text>
<text x="252.0" y="686.0" font-size="9.3" font-weight="normal" fill="#111" text-anchor="middle" >as-17+19</text>
<line x1="287.7" y1="572.5" x2="287.7" y2="670.9" stroke="#9a9a9a" stroke-width="1.2" />
<line x1="287.7" y1="670.9" x2="502.5" y2="670.9" stroke="#9a9a9a" stroke-width="1.2" />
<line x1="284.7" y1="670.9" x2="287.7" y2="670.9" stroke="#9a9a9a" stroke-width="1" />
<text x="278.6" y="673.6" font-size="7.6" font-weight="normal" fill="#111" text-anchor="end" >0</text>
<line x1="284.7" y1="651.2" x2="287.7" y2="651.2" stroke="#9a9a9a" stroke-width="1" />
<text x="278.6" y="654.0" font-size="7.6" font-weight="normal" fill="#111" text-anchor="end" >20</text>
<line x1="284.7" y1="631.5" x2="287.7" y2="631.5" stroke="#9a9a9a" stroke-width="1" />
<text x="278.6" y="634.3" font-size="7.6" font-weight="normal" fill="#111" text-anchor="end" >40</text>
<line x1="284.7" y1="611.9" x2="287.7" y2="611.9" stroke="#9a9a9a" stroke-width="1" />
<text x="278.6" y="614.6" font-size="7.6" font-weight="normal" fill="#111" text-anchor="end" >60</text>
<line x1="284.7" y1="592.2" x2="287.7" y2="592.2" stroke="#9a9a9a" stroke-width="1" />
<text x="278.6" y="594.9" font-size="7.6" font-weight="normal" fill="#111" text-anchor="end" >80</text>
<line x1="284.7" y1="572.5" x2="287.7" y2="572.5" stroke="#9a9a9a" stroke-width="1" />
<text x="278.6" y="575.2" font-size="7.6" font-weight="normal" fill="#111" text-anchor="end" >100</text>
<polyline points="309.8,632.2 352.3,660.5 396.2,607.9 439.2,603.4 481.8,577.8" fill="none" stroke="#bb534f" stroke-width="3.4" stroke-linejoin="round" />
<polyline points="309.8,599.8 352.3,623.7 396.2,591.2 439.2,588.2 481.8,575.0" fill="none" stroke="#5b86c6" stroke-width="3.4" stroke-linejoin="round" />
<polygon points="309.8,595.8 313.8,599.8 309.8,603.8 305.8,599.8" fill="#86a8da" stroke="#6d93cc" stroke-width="0.8" />
<polygon points="352.3,619.7 356.3,623.7 352.3,627.7 348.3,623.7" fill="#86a8da" stroke="#6d93cc" stroke-width="0.8" />
<polygon points="396.2,587.2 400.2,591.2 396.2,595.2 392.2,591.2" fill="#86a8da" stroke="#6d93cc" stroke-width="0.8" />
<polygon points="439.2,584.2 443.2,588.2 439.2,592.2 435.2,588.2" fill="#86a8da" stroke="#6d93cc" stroke-width="0.8" />
<polygon points="481.8,571.0 485.8,575.0 481.8,579.0 477.8,575.0" fill="#86a8da" stroke="#6d93cc" stroke-width="0.8" />
<rect x="305.6" y="628.0" width="8.4" height="8.4" fill="#dc7c78" stroke="#c46460" stroke-width="0.8"/>
<rect x="348.1" y="656.3" width="8.4" height="8.4" fill="#dc7c78" stroke="#c46460" stroke-width="0.8"/>
<rect x="392.0" y="603.7" width="8.4" height="8.4" fill="#dc7c78" stroke="#c46460" stroke-width="0.8"/>
<rect x="435.0" y="599.2" width="8.4" height="8.4" fill="#dc7c78" stroke="#c46460" stroke-width="0.8"/>
<rect x="477.6" y="573.6" width="8.4" height="8.4" fill="#dc7c78" stroke="#c46460" stroke-width="0.8"/>
<text x="473.7" y="645.5" font-size="9.6" font-weight="bold" fill="#111" text-anchor="start" >Pt. 75</text>
<text x="307.2" y="686.5" font-size="9.3" font-weight="normal" fill="#111" text-anchor="middle" >Scr</text>
<text x="357.3" y="686.5" font-size="9.3" font-weight="normal" fill="#111" text-anchor="middle" >miR-17-92</text>
<text x="399.9" y="686.5" font-size="9.3" font-weight="normal" fill="#111" text-anchor="middle" >as-19</text>
<text x="441.5" y="686.5" font-size="9.3" font-weight="normal" fill="#111" text-anchor="middle" >as-17</text>
<text x="489.6" y="686.5" font-size="9.3" font-weight="normal" fill="#111" text-anchor="middle" >as-17+19</text>
</svg>
</body></html>
